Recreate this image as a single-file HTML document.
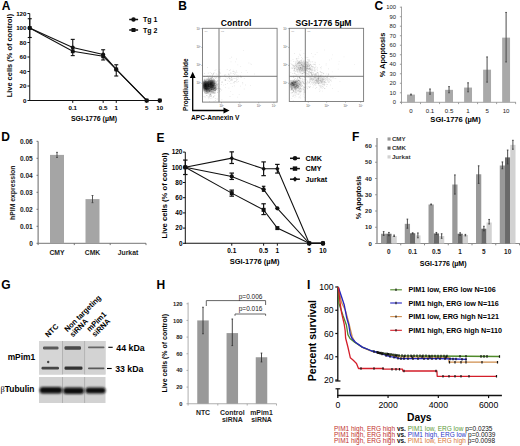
<!DOCTYPE html>
<html><head><meta charset="utf-8"><style>
html,body{margin:0;padding:0;background:#fff;overflow:hidden;width:520px;height:446px;}
svg{display:block;font-family:"Liberation Sans", sans-serif;}
</style></head><body>
<svg width="520" height="446" viewBox="0 0 520 446">
<rect width="520" height="446" fill="#fff"/>
<text x="1.70" y="9.80" font-size="12" font-weight="bold" text-anchor="start" fill="#000" >A</text>
<text x="178.20" y="9.90" font-size="12" font-weight="bold" text-anchor="start" fill="#000" >B</text>
<text x="374.40" y="9.60" font-size="12" font-weight="bold" text-anchor="start" fill="#000" >C</text>
<text x="1.30" y="141.05" font-size="12" font-weight="bold" text-anchor="start" fill="#000" >D</text>
<text x="156.60" y="141.50" font-size="12" font-weight="bold" text-anchor="start" fill="#000" >E</text>
<text x="352.10" y="141.00" font-size="12" font-weight="bold" text-anchor="start" fill="#000" >F</text>
<text x="1.30" y="288.60" font-size="12" font-weight="bold" text-anchor="start" fill="#000" >G</text>
<text x="156.60" y="288.60" font-size="12" font-weight="bold" text-anchor="start" fill="#000" >H</text>
<text x="307.00" y="288.80" font-size="12" font-weight="bold" text-anchor="start" fill="#000" >I</text>
<line x1="29.75" y1="13.50" x2="29.75" y2="101.00" stroke="#111" stroke-width="1"/>
<line x1="29.25" y1="100.50" x2="161.50" y2="100.50" stroke="#111" stroke-width="1.1"/>
<line x1="27.45" y1="100.50" x2="29.75" y2="100.50" stroke="#111" stroke-width="1"/>
<text x="26.50" y="102.92" font-size="6.2" font-weight="bold" text-anchor="end" fill="#000" >0</text>
<line x1="27.45" y1="86.00" x2="29.75" y2="86.00" stroke="#111" stroke-width="1"/>
<text x="26.50" y="88.42" font-size="6.2" font-weight="bold" text-anchor="end" fill="#000" >20</text>
<line x1="27.45" y1="71.50" x2="29.75" y2="71.50" stroke="#111" stroke-width="1"/>
<text x="26.50" y="73.92" font-size="6.2" font-weight="bold" text-anchor="end" fill="#000" >40</text>
<line x1="27.45" y1="57.00" x2="29.75" y2="57.00" stroke="#111" stroke-width="1"/>
<text x="26.50" y="59.42" font-size="6.2" font-weight="bold" text-anchor="end" fill="#000" >60</text>
<line x1="27.45" y1="42.50" x2="29.75" y2="42.50" stroke="#111" stroke-width="1"/>
<text x="26.50" y="44.92" font-size="6.2" font-weight="bold" text-anchor="end" fill="#000" >80</text>
<line x1="27.45" y1="28.00" x2="29.75" y2="28.00" stroke="#111" stroke-width="1"/>
<text x="26.50" y="30.42" font-size="6.2" font-weight="bold" text-anchor="end" fill="#000" >100</text>
<line x1="27.45" y1="13.50" x2="29.75" y2="13.50" stroke="#111" stroke-width="1"/>
<text x="26.50" y="15.92" font-size="6.2" font-weight="bold" text-anchor="end" fill="#000" >120</text>
<line x1="72.75" y1="100.50" x2="72.75" y2="102.90" stroke="#111" stroke-width="1"/>
<text x="72.75" y="109.72" font-size="6.2" font-weight="bold" text-anchor="middle" fill="#000" >0.1</text>
<line x1="103.16" y1="100.50" x2="103.16" y2="102.90" stroke="#111" stroke-width="1"/>
<text x="103.16" y="109.72" font-size="6.2" font-weight="bold" text-anchor="middle" fill="#000" >0.5</text>
<line x1="116.25" y1="100.50" x2="116.25" y2="102.90" stroke="#111" stroke-width="1"/>
<text x="116.25" y="109.72" font-size="6.2" font-weight="bold" text-anchor="middle" fill="#000" >1</text>
<line x1="146.66" y1="100.50" x2="146.66" y2="102.90" stroke="#111" stroke-width="1"/>
<text x="146.66" y="109.72" font-size="6.2" font-weight="bold" text-anchor="middle" fill="#000" >5</text>
<line x1="159.75" y1="100.50" x2="159.75" y2="102.90" stroke="#111" stroke-width="1"/>
<text x="159.75" y="109.72" font-size="6.2" font-weight="bold" text-anchor="middle" fill="#000" >10</text>
<text x="94.00" y="121.49" font-size="6.95" font-weight="bold" text-anchor="middle" fill="#000" >SGI-1776 (µM)</text>
<text transform="translate(9.30,55.60) rotate(-90)" x="0" y="2.67" font-size="7.45" font-weight="bold" text-anchor="middle" fill="#000" >Live cells (% of control)</text>
<polyline points="29.75,28.00 72.75,47.50 103.16,54.39 116.25,69.40 146.66,100.50 159.75,100.50" fill="none" stroke="#111" stroke-width="1.1" />
<polyline points="29.75,28.00 72.75,51.27 103.16,56.27 116.25,69.40 146.66,100.50 159.75,100.50" fill="none" stroke="#111" stroke-width="1.1" />
<line x1="29.75" y1="18.72" x2="29.75" y2="37.50" stroke="#111" stroke-width="1.1"/>
<line x1="27.75" y1="18.72" x2="31.75" y2="18.72" stroke="#111" stroke-width="1.1"/>
<line x1="27.75" y1="37.50" x2="31.75" y2="37.50" stroke="#111" stroke-width="1.1"/>
<line x1="72.75" y1="39.38" x2="72.75" y2="55.62" stroke="#111" stroke-width="1.1"/>
<line x1="70.75" y1="39.38" x2="74.75" y2="39.38" stroke="#111" stroke-width="1.1"/>
<line x1="70.75" y1="55.62" x2="74.75" y2="55.62" stroke="#111" stroke-width="1.1"/>
<line x1="103.16" y1="49.75" x2="103.16" y2="59.97" stroke="#111" stroke-width="1.1"/>
<line x1="101.16" y1="49.75" x2="105.16" y2="49.75" stroke="#111" stroke-width="1.1"/>
<line x1="101.16" y1="59.97" x2="105.16" y2="59.97" stroke="#111" stroke-width="1.1"/>
<line x1="116.25" y1="64.76" x2="116.25" y2="76.00" stroke="#111" stroke-width="1.1"/>
<line x1="114.25" y1="64.76" x2="118.25" y2="64.76" stroke="#111" stroke-width="1.1"/>
<line x1="114.25" y1="76.00" x2="118.25" y2="76.00" stroke="#111" stroke-width="1.1"/>
<circle cx="29.75" cy="28.00" r="2.0" fill="#111"/>
<circle cx="72.75" cy="47.50" r="2.0" fill="#111"/>
<circle cx="103.16" cy="54.39" r="2.0" fill="#111"/>
<circle cx="116.25" cy="69.40" r="2.0" fill="#111"/>
<circle cx="146.66" cy="100.50" r="2.0" fill="#111"/>
<circle cx="159.75" cy="100.50" r="2.0" fill="#111"/>
<rect x="27.85" y="26.10" width="3.80" height="3.80" fill="#111" />
<rect x="70.85" y="49.37" width="3.80" height="3.80" fill="#111" />
<rect x="101.26" y="54.38" width="3.80" height="3.80" fill="#111" />
<rect x="114.35" y="67.50" width="3.80" height="3.80" fill="#111" />
<rect x="144.76" y="98.60" width="3.80" height="3.80" fill="#111" />
<rect x="157.85" y="98.60" width="3.80" height="3.80" fill="#111" />
<line x1="129.20" y1="19.50" x2="138.10" y2="19.50" stroke="#111" stroke-width="1.5"/>
<circle cx="133.5" cy="19.5" r="2.2" fill="#111"/>
<text x="143.00" y="22.01" font-size="7" font-weight="bold" text-anchor="start" fill="#000" >Tg 1</text>
<line x1="129.20" y1="30.00" x2="138.10" y2="30.00" stroke="#111" stroke-width="1.5"/>
<rect x="131.50" y="28.00" width="4.00" height="4.00" fill="#111" />
<text x="143.00" y="32.51" font-size="7" font-weight="bold" text-anchor="start" fill="#000" >Tg 2</text>
<defs><radialGradient id="rg"><stop offset="0" stop-color="#000" stop-opacity="1"/><stop offset="0.6" stop-color="#000" stop-opacity="0.6"/><stop offset="1" stop-color="#000" stop-opacity="0"/></radialGradient></defs>
<defs><clipPath id="fc1"><rect x="202.5" y="28.3" width="74.60" height="73.80"/></clipPath></defs>
<g clip-path="url(#fc1)">
<ellipse cx="205.5" cy="85" rx="4.5" ry="5.5" fill="url(#rg)" opacity="0.95"/>
<ellipse cx="211" cy="83.5" rx="4.8" ry="4.5" fill="url(#rg)" opacity="0.85"/>
<ellipse cx="213" cy="87.5" rx="3.5" ry="4" fill="url(#rg)" opacity="0.5"/>
<ellipse cx="207" cy="89" rx="5" ry="4" fill="url(#rg)" opacity="0.6"/>
<ellipse cx="209.5" cy="86" rx="9" ry="9" fill="url(#rg)" opacity="0.3"/>
<path d="M207.5 87.3h.8v.8h-.8zM207.6 83.6h.8v.8h-.8zM204.8 84.0h.8v.8h-.8zM212.9 86.9h.8v.8h-.8zM212.6 86.1h.8v.8h-.8zM210.1 85.8h.8v.8h-.8zM210.5 87.2h.8v.8h-.8zM204.9 82.9h.8v.8h-.8zM209.7 84.8h.8v.8h-.8zM210.6 82.1h.8v.8h-.8zM209.7 86.8h.8v.8h-.8zM205.9 92.7h.8v.8h-.8zM210.7 90.4h.8v.8h-.8zM206.0 81.7h.8v.8h-.8zM207.1 84.5h.8v.8h-.8zM211.0 86.1h.8v.8h-.8zM206.7 80.7h.8v.8h-.8zM206.4 90.5h.8v.8h-.8zM205.3 86.1h.8v.8h-.8zM210.2 78.3h.8v.8h-.8zM208.7 90.9h.8v.8h-.8zM208.1 81.3h.8v.8h-.8zM210.5 84.7h.8v.8h-.8zM211.2 89.3h.8v.8h-.8zM214.3 86.6h.8v.8h-.8zM209.0 79.2h.8v.8h-.8zM211.0 82.2h.8v.8h-.8zM206.7 79.3h.8v.8h-.8zM204.6 82.6h.8v.8h-.8zM213.7 75.9h.8v.8h-.8z" fill="#000" fill-opacity="0.18"/>
<path d="M214.3 87.6h.8v.8h-.8zM209.9 81.7h.8v.8h-.8zM204.0 89.4h.8v.8h-.8zM212.9 85.7h.8v.8h-.8zM209.5 87.0h.8v.8h-.8zM214.9 87.8h.8v.8h-.8zM210.6 87.5h.8v.8h-.8zM212.3 87.4h.8v.8h-.8zM211.9 76.8h.8v.8h-.8zM207.8 89.6h.8v.8h-.8zM210.7 84.3h.8v.8h-.8zM209.8 87.9h.8v.8h-.8zM209.0 90.2h.8v.8h-.8zM205.9 83.1h.8v.8h-.8zM212.7 85.1h.8v.8h-.8zM205.0 89.3h.8v.8h-.8zM214.4 83.0h.8v.8h-.8zM207.9 83.7h.8v.8h-.8zM214.1 80.4h.8v.8h-.8zM213.5 79.3h.8v.8h-.8zM205.4 87.8h.8v.8h-.8zM213.0 88.9h.8v.8h-.8zM209.9 85.6h.8v.8h-.8zM209.1 87.6h.8v.8h-.8zM207.8 86.2h.8v.8h-.8zM210.8 85.0h.8v.8h-.8zM211.6 87.5h.8v.8h-.8zM216.5 86.5h.8v.8h-.8zM206.8 83.3h.8v.8h-.8zM208.4 89.2h.8v.8h-.8z" fill="#000" fill-opacity="0.18"/>
<path d="M207.2 86.7h.8v.8h-.8zM215.8 73.5h.8v.8h-.8zM204.0 86.1h.8v.8h-.8zM210.1 86.1h.8v.8h-.8zM206.8 87.9h.8v.8h-.8zM209.6 82.7h.8v.8h-.8zM218.2 86.6h.8v.8h-.8zM206.3 84.6h.8v.8h-.8zM207.6 84.7h.8v.8h-.8zM212.5 79.7h.8v.8h-.8zM208.2 89.3h.8v.8h-.8zM211.9 91.7h.8v.8h-.8zM207.1 87.8h.8v.8h-.8zM212.9 72.9h.8v.8h-.8zM212.9 78.5h.8v.8h-.8zM211.2 78.3h.8v.8h-.8zM209.2 90.4h.8v.8h-.8zM207.9 85.9h.8v.8h-.8zM211.7 85.6h.8v.8h-.8zM208.1 91.9h.8v.8h-.8zM212.7 83.7h.8v.8h-.8zM219.5 79.8h.8v.8h-.8zM212.2 83.8h.8v.8h-.8zM209.0 88.2h.8v.8h-.8zM209.4 87.9h.8v.8h-.8zM211.0 80.7h.8v.8h-.8zM204.4 78.4h.8v.8h-.8zM213.6 88.4h.8v.8h-.8zM214.4 80.8h.8v.8h-.8zM208.5 79.9h.8v.8h-.8z" fill="#000" fill-opacity="0.18"/>
<path d="M211.6 92.2h.8v.8h-.8zM204.9 92.0h.8v.8h-.8zM212.5 84.2h.8v.8h-.8zM208.1 82.3h.8v.8h-.8zM210.1 86.8h.8v.8h-.8zM214.5 80.4h.8v.8h-.8zM213.0 91.7h.8v.8h-.8zM214.3 84.2h.8v.8h-.8zM205.5 89.6h.8v.8h-.8zM209.0 85.6h.8v.8h-.8zM214.2 83.8h.8v.8h-.8zM209.8 82.2h.8v.8h-.8zM208.5 88.7h.8v.8h-.8zM208.8 91.0h.8v.8h-.8zM208.3 89.7h.8v.8h-.8zM214.5 92.2h.8v.8h-.8zM205.8 89.0h.8v.8h-.8zM203.6 84.9h.8v.8h-.8zM207.7 84.9h.8v.8h-.8zM206.1 86.1h.8v.8h-.8zM215.7 85.2h.8v.8h-.8zM210.6 89.5h.8v.8h-.8zM207.7 79.3h.8v.8h-.8zM206.3 89.8h.8v.8h-.8zM212.5 88.6h.8v.8h-.8zM208.5 88.6h.8v.8h-.8zM209.2 79.7h.8v.8h-.8zM212.2 82.5h.8v.8h-.8zM204.9 81.5h.8v.8h-.8zM203.8 86.6h.8v.8h-.8z" fill="#000" fill-opacity="0.18"/>
<path d="M205.9 76.3h.8v.8h-.8zM211.4 83.8h.8v.8h-.8zM209.7 82.9h.8v.8h-.8zM211.6 88.4h.8v.8h-.8zM211.2 86.5h.8v.8h-.8zM213.8 88.0h.8v.8h-.8zM210.3 75.6h.8v.8h-.8zM212.1 90.9h.8v.8h-.8zM207.3 82.9h.8v.8h-.8zM216.3 77.1h.8v.8h-.8zM210.4 95.9h.8v.8h-.8zM204.8 88.1h.8v.8h-.8zM216.0 84.5h.8v.8h-.8zM210.7 89.1h.8v.8h-.8zM204.9 84.6h.8v.8h-.8zM209.7 88.7h.8v.8h-.8zM208.4 84.1h.8v.8h-.8zM204.4 83.4h.8v.8h-.8zM212.1 85.5h.8v.8h-.8zM205.1 81.2h.8v.8h-.8zM219.2 90.1h.8v.8h-.8zM211.0 73.3h.8v.8h-.8zM211.0 87.2h.8v.8h-.8zM215.2 86.9h.8v.8h-.8zM208.2 87.4h.8v.8h-.8zM209.8 81.8h.8v.8h-.8zM213.8 93.1h.8v.8h-.8zM209.7 85.8h.8v.8h-.8zM206.9 80.6h.8v.8h-.8zM217.0 89.7h.8v.8h-.8z" fill="#000" fill-opacity="0.18"/>
<path d="M203.7 78.9h.8v.8h-.8zM215.3 89.5h.8v.8h-.8zM215.8 88.6h.8v.8h-.8zM205.0 86.2h.8v.8h-.8zM208.3 87.4h.8v.8h-.8zM205.6 84.4h.8v.8h-.8zM210.3 86.7h.8v.8h-.8zM211.1 85.9h.8v.8h-.8zM207.2 88.6h.8v.8h-.8zM208.7 81.3h.8v.8h-.8zM206.0 85.0h.8v.8h-.8zM208.1 85.7h.8v.8h-.8zM208.5 85.8h.8v.8h-.8zM208.0 79.3h.8v.8h-.8zM210.2 89.7h.8v.8h-.8zM210.2 84.1h.8v.8h-.8zM210.3 80.7h.8v.8h-.8zM204.8 88.3h.8v.8h-.8zM204.2 73.2h.8v.8h-.8zM204.3 92.1h.8v.8h-.8zM207.0 78.8h.8v.8h-.8zM205.4 87.3h.8v.8h-.8zM210.5 85.8h.8v.8h-.8zM214.4 88.2h.8v.8h-.8zM208.4 87.7h.8v.8h-.8zM215.1 89.4h.8v.8h-.8zM212.6 80.1h.8v.8h-.8zM207.9 88.3h.8v.8h-.8zM207.3 89.8h.8v.8h-.8zM210.9 89.1h.8v.8h-.8z" fill="#000" fill-opacity="0.18"/>
<path d="M207.7 96.5h.8v.8h-.8zM213.5 84.0h.8v.8h-.8zM208.9 96.7h.8v.8h-.8zM207.1 88.9h.8v.8h-.8zM212.4 85.0h.8v.8h-.8zM203.8 85.8h.8v.8h-.8zM209.9 90.1h.8v.8h-.8zM211.6 85.1h.8v.8h-.8zM211.9 87.4h.8v.8h-.8zM209.3 85.2h.8v.8h-.8zM207.5 88.1h.8v.8h-.8zM204.3 82.2h.8v.8h-.8zM208.5 78.4h.8v.8h-.8zM206.8 76.0h.8v.8h-.8zM205.8 87.6h.8v.8h-.8zM210.8 84.8h.8v.8h-.8zM207.6 78.6h.8v.8h-.8zM215.8 87.3h.8v.8h-.8zM212.9 81.0h.8v.8h-.8zM207.8 76.8h.8v.8h-.8zM211.6 89.2h.8v.8h-.8zM211.0 77.1h.8v.8h-.8zM206.0 78.7h.8v.8h-.8zM208.6 86.1h.8v.8h-.8zM211.0 88.2h.8v.8h-.8zM214.5 90.2h.8v.8h-.8zM204.3 80.2h.8v.8h-.8zM208.2 85.0h.8v.8h-.8zM210.5 77.9h.8v.8h-.8zM203.5 84.9h.8v.8h-.8z" fill="#000" fill-opacity="0.18"/>
<path d="M207.7 83.6h.8v.8h-.8zM208.2 81.6h.8v.8h-.8zM211.3 86.6h.8v.8h-.8zM208.1 82.0h.8v.8h-.8zM207.8 72.8h.8v.8h-.8zM204.6 85.2h.8v.8h-.8zM209.1 78.8h.8v.8h-.8zM207.5 83.6h.8v.8h-.8zM210.3 87.8h.8v.8h-.8zM208.4 81.2h.8v.8h-.8zM207.9 84.7h.8v.8h-.8zM211.4 86.3h.8v.8h-.8zM205.6 78.9h.8v.8h-.8zM207.0 81.7h.8v.8h-.8zM204.1 84.5h.8v.8h-.8zM206.5 85.5h.8v.8h-.8zM210.6 83.1h.8v.8h-.8zM217.8 83.6h.8v.8h-.8zM212.9 85.5h.8v.8h-.8zM213.0 74.3h.8v.8h-.8zM205.5 86.1h.8v.8h-.8zM210.9 95.5h.8v.8h-.8zM209.8 90.8h.8v.8h-.8zM211.6 89.3h.8v.8h-.8zM210.5 84.3h.8v.8h-.8zM210.5 80.1h.8v.8h-.8zM213.2 80.4h.8v.8h-.8zM209.5 94.5h.8v.8h-.8zM207.6 85.1h.8v.8h-.8zM213.2 85.1h.8v.8h-.8z" fill="#000" fill-opacity="0.18"/>
<path d="M205.3 86.2h.8v.8h-.8zM210.8 88.2h.8v.8h-.8zM205.4 92.9h.8v.8h-.8zM215.2 85.1h.8v.8h-.8zM209.6 83.1h.8v.8h-.8zM214.2 81.8h.8v.8h-.8zM211.2 82.8h.8v.8h-.8zM205.7 88.2h.8v.8h-.8zM213.8 85.0h.8v.8h-.8zM205.8 88.7h.8v.8h-.8zM208.3 86.4h.8v.8h-.8zM214.6 90.1h.8v.8h-.8zM206.4 95.3h.8v.8h-.8zM208.5 88.5h.8v.8h-.8zM205.9 84.8h.8v.8h-.8zM214.0 79.5h.8v.8h-.8zM213.2 82.9h.8v.8h-.8zM208.3 83.6h.8v.8h-.8zM208.0 80.1h.8v.8h-.8zM208.6 78.5h.8v.8h-.8zM208.2 86.4h.8v.8h-.8zM210.4 84.0h.8v.8h-.8zM204.9 85.7h.8v.8h-.8zM206.6 92.0h.8v.8h-.8zM211.6 84.5h.8v.8h-.8zM206.6 81.8h.8v.8h-.8zM204.8 83.4h.8v.8h-.8zM209.7 87.3h.8v.8h-.8zM210.8 94.4h.8v.8h-.8zM205.7 85.1h.8v.8h-.8z" fill="#000" fill-opacity="0.18"/>
<path d="M219.7 76.6h.8v.8h-.8zM206.4 85.8h.8v.8h-.8zM209.1 86.8h.8v.8h-.8zM207.5 86.6h.8v.8h-.8zM208.7 88.5h.8v.8h-.8zM208.5 80.4h.8v.8h-.8zM204.3 87.8h.8v.8h-.8zM205.9 87.9h.8v.8h-.8zM211.5 86.4h.8v.8h-.8zM210.5 84.5h.8v.8h-.8zM210.3 82.6h.8v.8h-.8zM208.1 88.4h.8v.8h-.8zM205.0 87.9h.8v.8h-.8zM216.0 82.5h.8v.8h-.8zM209.1 84.3h.8v.8h-.8zM214.7 86.4h.8v.8h-.8zM212.1 81.9h.8v.8h-.8zM208.4 85.0h.8v.8h-.8zM212.1 77.1h.8v.8h-.8zM211.5 84.4h.8v.8h-.8zM210.3 86.6h.8v.8h-.8zM214.5 82.4h.8v.8h-.8zM204.4 78.9h.8v.8h-.8zM203.6 86.5h.8v.8h-.8zM215.3 86.9h.8v.8h-.8zM209.5 95.1h.8v.8h-.8zM206.4 82.0h.8v.8h-.8zM210.6 87.5h.8v.8h-.8zM204.4 79.7h.8v.8h-.8zM209.7 86.1h.8v.8h-.8z" fill="#000" fill-opacity="0.18"/>
<path d="M206.3 87.1h.8v.8h-.8zM208.0 84.6h.8v.8h-.8zM207.1 89.7h.8v.8h-.8zM214.1 83.3h.8v.8h-.8zM211.9 81.6h.8v.8h-.8zM208.8 88.4h.8v.8h-.8zM214.6 83.3h.8v.8h-.8zM208.2 85.9h.8v.8h-.8zM205.8 86.7h.8v.8h-.8zM204.0 76.1h.8v.8h-.8zM208.7 86.2h.8v.8h-.8z" fill="#000" fill-opacity="0.18"/>
<path d="M206.3 93.3h.8v.8h-.8zM207.6 84.4h.8v.8h-.8zM211.4 78.6h.8v.8h-.8zM205.6 87.9h.8v.8h-.8zM213.2 87.0h.8v.8h-.8zM210.5 84.1h.8v.8h-.8zM210.5 98.0h.8v.8h-.8zM205.8 88.1h.8v.8h-.8zM209.9 94.1h.8v.8h-.8zM212.0 92.8h.8v.8h-.8zM210.0 89.5h.8v.8h-.8zM213.6 90.2h.8v.8h-.8zM217.3 80.6h.8v.8h-.8zM207.1 67.3h.8v.8h-.8zM213.1 85.8h.8v.8h-.8zM213.6 100.9h.8v.8h-.8zM209.0 86.5h.8v.8h-.8zM206.5 83.0h.8v.8h-.8zM205.8 91.8h.8v.8h-.8zM209.2 88.4h.8v.8h-.8zM208.1 93.5h.8v.8h-.8zM211.5 87.1h.8v.8h-.8zM212.3 87.1h.8v.8h-.8zM211.3 82.3h.8v.8h-.8zM214.4 90.1h.8v.8h-.8zM210.7 93.3h.8v.8h-.8zM210.0 87.1h.8v.8h-.8zM209.2 86.3h.8v.8h-.8zM210.8 88.5h.8v.8h-.8zM212.4 85.8h.8v.8h-.8z" fill="#000" fill-opacity="0.15"/>
<path d="M208.8 75.2h.8v.8h-.8zM206.9 92.1h.8v.8h-.8zM215.7 85.8h.8v.8h-.8zM208.4 97.5h.8v.8h-.8zM207.4 92.4h.8v.8h-.8zM217.4 88.2h.8v.8h-.8zM215.1 83.7h.8v.8h-.8zM210.0 87.5h.8v.8h-.8zM209.6 94.8h.8v.8h-.8zM220.9 84.0h.8v.8h-.8zM206.1 91.0h.8v.8h-.8zM203.7 91.0h.8v.8h-.8zM211.9 86.3h.8v.8h-.8zM211.7 78.7h.8v.8h-.8zM212.8 78.7h.8v.8h-.8zM205.5 84.7h.8v.8h-.8zM207.0 93.2h.8v.8h-.8zM209.4 85.6h.8v.8h-.8zM211.7 97.5h.8v.8h-.8zM209.0 90.2h.8v.8h-.8zM215.2 89.6h.8v.8h-.8zM220.0 76.1h.8v.8h-.8zM208.8 90.5h.8v.8h-.8zM213.8 92.0h.8v.8h-.8zM207.6 81.7h.8v.8h-.8zM209.5 94.2h.8v.8h-.8zM203.6 81.8h.8v.8h-.8zM208.9 76.4h.8v.8h-.8zM207.7 85.4h.8v.8h-.8zM211.3 83.8h.8v.8h-.8z" fill="#000" fill-opacity="0.15"/>
<path d="M204.6 85.6h.8v.8h-.8zM208.8 84.0h.8v.8h-.8zM209.1 92.5h.8v.8h-.8zM214.9 98.2h.8v.8h-.8zM205.1 85.5h.8v.8h-.8zM205.4 87.8h.8v.8h-.8zM211.6 79.8h.8v.8h-.8zM211.3 87.8h.8v.8h-.8zM215.0 76.8h.8v.8h-.8zM213.0 89.3h.8v.8h-.8zM211.4 90.6h.8v.8h-.8zM215.5 86.7h.8v.8h-.8zM213.4 85.5h.8v.8h-.8zM212.6 83.1h.8v.8h-.8zM208.5 98.4h.8v.8h-.8zM211.2 87.1h.8v.8h-.8zM210.0 93.6h.8v.8h-.8zM211.1 91.1h.8v.8h-.8zM208.8 96.1h.8v.8h-.8zM207.0 84.7h.8v.8h-.8zM213.4 88.4h.8v.8h-.8zM207.6 84.5h.8v.8h-.8zM207.7 91.7h.8v.8h-.8zM210.8 80.7h.8v.8h-.8zM211.1 89.1h.8v.8h-.8zM204.0 92.6h.8v.8h-.8zM207.6 86.0h.8v.8h-.8zM213.0 95.9h.8v.8h-.8zM205.6 90.6h.8v.8h-.8zM206.5 95.2h.8v.8h-.8z" fill="#000" fill-opacity="0.15"/>
<path d="M205.8 92.9h.8v.8h-.8zM220.1 72.8h.8v.8h-.8zM206.8 91.0h.8v.8h-.8zM208.5 84.0h.8v.8h-.8zM219.8 88.5h.8v.8h-.8zM206.1 88.9h.8v.8h-.8zM215.3 88.7h.8v.8h-.8zM214.9 92.4h.8v.8h-.8zM204.9 93.2h.8v.8h-.8zM211.5 91.9h.8v.8h-.8zM213.5 92.4h.8v.8h-.8zM213.4 73.3h.8v.8h-.8zM209.8 91.0h.8v.8h-.8zM221.8 82.3h.8v.8h-.8zM207.4 88.2h.8v.8h-.8zM213.4 85.3h.8v.8h-.8zM214.7 83.3h.8v.8h-.8zM210.3 84.8h.8v.8h-.8zM209.8 83.9h.8v.8h-.8zM210.5 84.6h.8v.8h-.8zM210.0 93.9h.8v.8h-.8zM204.1 87.3h.8v.8h-.8zM211.7 91.2h.8v.8h-.8zM207.3 75.4h.8v.8h-.8zM215.2 90.0h.8v.8h-.8zM209.1 86.3h.8v.8h-.8zM210.3 85.4h.8v.8h-.8zM203.9 83.6h.8v.8h-.8zM206.0 84.3h.8v.8h-.8zM203.9 90.1h.8v.8h-.8z" fill="#000" fill-opacity="0.15"/>
<path d="M215.9 89.2h.8v.8h-.8zM205.3 88.3h.8v.8h-.8zM209.7 77.6h.8v.8h-.8zM206.0 89.0h.8v.8h-.8zM206.7 88.5h.8v.8h-.8zM212.7 92.6h.8v.8h-.8zM213.5 91.5h.8v.8h-.8zM207.6 87.9h.8v.8h-.8zM207.6 86.1h.8v.8h-.8zM208.1 77.7h.8v.8h-.8zM207.3 87.9h.8v.8h-.8zM204.1 87.9h.8v.8h-.8zM211.6 87.0h.8v.8h-.8zM219.4 72.4h.8v.8h-.8zM208.0 77.0h.8v.8h-.8zM211.6 86.2h.8v.8h-.8zM211.8 74.5h.8v.8h-.8zM213.3 90.2h.8v.8h-.8zM209.1 84.5h.8v.8h-.8zM212.2 85.1h.8v.8h-.8zM210.1 84.9h.8v.8h-.8zM210.0 92.5h.8v.8h-.8zM204.6 87.8h.8v.8h-.8zM212.1 88.9h.8v.8h-.8zM215.2 99.9h.8v.8h-.8zM204.5 76.5h.8v.8h-.8zM213.3 97.2h.8v.8h-.8zM213.6 92.9h.8v.8h-.8zM205.9 83.7h.8v.8h-.8zM213.4 82.5h.8v.8h-.8z" fill="#000" fill-opacity="0.15"/>
<path d="M221.5 99.5h.8v.8h-.8zM205.6 83.6h.8v.8h-.8zM210.2 83.5h.8v.8h-.8zM215.6 87.5h.8v.8h-.8zM203.6 95.9h.8v.8h-.8zM206.1 89.3h.8v.8h-.8zM208.9 86.1h.8v.8h-.8zM210.6 83.8h.8v.8h-.8zM208.9 88.3h.8v.8h-.8zM211.8 88.7h.8v.8h-.8zM205.0 83.7h.8v.8h-.8zM211.4 91.2h.8v.8h-.8zM208.4 87.0h.8v.8h-.8zM213.7 88.1h.8v.8h-.8zM212.7 91.5h.8v.8h-.8zM210.1 95.8h.8v.8h-.8zM206.1 85.8h.8v.8h-.8zM205.0 83.2h.8v.8h-.8zM216.8 98.6h.8v.8h-.8zM209.1 91.4h.8v.8h-.8zM214.9 92.8h.8v.8h-.8zM215.0 80.4h.8v.8h-.8zM205.8 90.7h.8v.8h-.8zM216.2 88.6h.8v.8h-.8zM204.7 85.9h.8v.8h-.8zM205.7 82.9h.8v.8h-.8zM216.5 84.2h.8v.8h-.8zM209.1 101.0h.8v.8h-.8zM214.9 90.0h.8v.8h-.8zM205.9 90.5h.8v.8h-.8z" fill="#000" fill-opacity="0.15"/>
<path d="M217.1 91.7h.8v.8h-.8zM215.3 88.6h.8v.8h-.8zM211.6 86.8h.8v.8h-.8zM211.1 95.8h.8v.8h-.8zM210.2 84.6h.8v.8h-.8zM207.5 92.7h.8v.8h-.8zM219.0 91.8h.8v.8h-.8zM210.6 78.7h.8v.8h-.8zM218.6 88.5h.8v.8h-.8zM208.8 81.3h.8v.8h-.8zM208.7 81.4h.8v.8h-.8zM209.4 90.8h.8v.8h-.8zM209.2 89.7h.8v.8h-.8zM204.7 96.6h.8v.8h-.8z" fill="#000" fill-opacity="0.15"/>
<path d="M212.0 74.9h.8v.8h-.8zM213.4 80.2h.8v.8h-.8zM211.0 82.2h.8v.8h-.8zM214.9 78.1h.8v.8h-.8zM213.6 91.1h.8v.8h-.8zM216.0 83.2h.8v.8h-.8zM214.4 83.4h.8v.8h-.8zM213.9 87.7h.8v.8h-.8zM213.7 72.0h.8v.8h-.8zM213.9 79.6h.8v.8h-.8zM216.0 80.9h.8v.8h-.8zM214.4 94.9h.8v.8h-.8zM210.9 78.4h.8v.8h-.8zM209.8 72.0h.8v.8h-.8zM208.4 85.8h.8v.8h-.8zM212.1 74.7h.8v.8h-.8zM209.6 87.1h.8v.8h-.8zM211.7 82.2h.8v.8h-.8zM215.0 90.8h.8v.8h-.8zM219.8 89.2h.8v.8h-.8zM214.4 84.9h.8v.8h-.8zM219.4 91.1h.8v.8h-.8zM213.1 86.3h.8v.8h-.8zM214.9 84.3h.8v.8h-.8zM212.5 77.4h.8v.8h-.8zM212.4 76.3h.8v.8h-.8zM217.7 86.7h.8v.8h-.8zM210.4 91.0h.8v.8h-.8zM216.7 74.5h.8v.8h-.8zM219.5 88.0h.8v.8h-.8z" fill="#000" fill-opacity="0.15"/>
<path d="M220.2 77.8h.8v.8h-.8zM215.6 86.1h.8v.8h-.8zM214.6 84.9h.8v.8h-.8zM217.2 76.5h.8v.8h-.8zM210.3 77.0h.8v.8h-.8zM212.3 81.0h.8v.8h-.8zM215.1 85.3h.8v.8h-.8zM214.1 80.6h.8v.8h-.8zM212.7 88.8h.8v.8h-.8zM216.3 84.5h.8v.8h-.8zM213.0 91.8h.8v.8h-.8zM212.2 87.2h.8v.8h-.8zM217.5 82.7h.8v.8h-.8zM216.5 78.4h.8v.8h-.8zM217.0 85.0h.8v.8h-.8zM209.2 87.3h.8v.8h-.8zM211.3 90.4h.8v.8h-.8zM212.0 83.2h.8v.8h-.8zM214.8 82.3h.8v.8h-.8zM214.8 81.2h.8v.8h-.8zM216.0 84.0h.8v.8h-.8zM214.6 70.2h.8v.8h-.8zM217.5 84.2h.8v.8h-.8zM208.7 84.5h.8v.8h-.8zM215.4 89.4h.8v.8h-.8zM210.8 91.7h.8v.8h-.8zM213.5 96.0h.8v.8h-.8zM213.6 87.4h.8v.8h-.8zM212.9 78.4h.8v.8h-.8zM217.3 88.5h.8v.8h-.8z" fill="#000" fill-opacity="0.15"/>
<path d="M218.6 88.3h.8v.8h-.8zM212.3 75.7h.8v.8h-.8zM212.0 80.6h.8v.8h-.8zM211.6 86.9h.8v.8h-.8zM215.0 82.7h.8v.8h-.8zM214.5 83.3h.8v.8h-.8zM214.6 87.8h.8v.8h-.8zM216.9 80.6h.8v.8h-.8zM209.5 91.1h.8v.8h-.8zM214.3 89.5h.8v.8h-.8zM209.1 82.4h.8v.8h-.8zM214.1 76.8h.8v.8h-.8zM212.5 87.6h.8v.8h-.8zM217.2 92.0h.8v.8h-.8zM211.4 77.0h.8v.8h-.8zM215.6 88.7h.8v.8h-.8zM214.6 77.5h.8v.8h-.8zM216.3 88.0h.8v.8h-.8zM215.7 81.6h.8v.8h-.8zM214.9 88.0h.8v.8h-.8z" fill="#000" fill-opacity="0.15"/>
<path d="M229.2 70.0h.8v.8h-.8zM233.6 78.2h.8v.8h-.8zM232.1 79.6h.8v.8h-.8zM229.1 76.2h.8v.8h-.8zM230.5 78.5h.8v.8h-.8zM240.0 75.6h.8v.8h-.8zM242.3 81.9h.8v.8h-.8zM236.0 78.6h.8v.8h-.8zM240.9 75.9h.8v.8h-.8zM231.4 72.8h.8v.8h-.8zM234.4 81.2h.8v.8h-.8zM234.7 78.0h.8v.8h-.8zM231.0 77.1h.8v.8h-.8zM224.9 80.2h.8v.8h-.8zM230.0 72.6h.8v.8h-.8zM228.2 73.6h.8v.8h-.8zM236.3 80.2h.8v.8h-.8zM225.2 79.7h.8v.8h-.8zM236.4 74.5h.8v.8h-.8zM224.6 73.9h.8v.8h-.8zM228.8 77.7h.8v.8h-.8zM230.2 69.4h.8v.8h-.8zM233.2 71.1h.8v.8h-.8zM236.5 72.3h.8v.8h-.8zM228.5 73.5h.8v.8h-.8zM229.3 81.0h.8v.8h-.8zM236.3 78.6h.8v.8h-.8zM233.6 71.1h.8v.8h-.8zM229.4 74.6h.8v.8h-.8zM227.1 78.3h.8v.8h-.8z" fill="#000" fill-opacity="0.14"/>
<path d="M228.3 74.0h.8v.8h-.8zM226.8 69.3h.8v.8h-.8zM235.0 81.2h.8v.8h-.8zM232.9 73.1h.8v.8h-.8zM218.5 77.1h.8v.8h-.8zM238.1 77.5h.8v.8h-.8zM236.6 81.7h.8v.8h-.8zM237.6 75.0h.8v.8h-.8zM237.3 79.2h.8v.8h-.8zM224.3 75.1h.8v.8h-.8zM224.9 76.1h.8v.8h-.8zM234.9 72.8h.8v.8h-.8zM221.7 81.0h.8v.8h-.8zM233.9 81.6h.8v.8h-.8zM225.4 80.2h.8v.8h-.8zM242.4 83.5h.8v.8h-.8zM230.9 77.4h.8v.8h-.8zM231.2 80.0h.8v.8h-.8zM237.2 76.8h.8v.8h-.8zM225.2 79.1h.8v.8h-.8zM229.7 78.7h.8v.8h-.8zM233.3 82.2h.8v.8h-.8zM237.7 74.9h.8v.8h-.8zM233.7 82.7h.8v.8h-.8zM229.3 78.0h.8v.8h-.8zM238.0 80.9h.8v.8h-.8zM234.6 71.9h.8v.8h-.8zM225.7 77.4h.8v.8h-.8zM233.9 85.4h.8v.8h-.8zM227.7 80.5h.8v.8h-.8z" fill="#000" fill-opacity="0.14"/>
<path d="M235.9 70.6h.8v.8h-.8zM227.9 77.1h.8v.8h-.8zM229.5 76.0h.8v.8h-.8zM234.4 73.7h.8v.8h-.8zM234.3 74.3h.8v.8h-.8zM229.3 78.4h.8v.8h-.8zM229.1 77.5h.8v.8h-.8zM240.0 76.6h.8v.8h-.8zM231.3 79.1h.8v.8h-.8zM230.2 80.3h.8v.8h-.8z" fill="#000" fill-opacity="0.14"/>
<path d="M216.5 88.3h.8v.8h-.8zM223.4 78.4h.8v.8h-.8zM243.9 78.0h.8v.8h-.8zM243.8 88.6h.8v.8h-.8zM241.1 77.2h.8v.8h-.8zM238.8 94.2h.8v.8h-.8zM227.0 83.1h.8v.8h-.8zM250.1 85.2h.8v.8h-.8zM224.2 79.6h.8v.8h-.8zM232.0 86.3h.8v.8h-.8zM229.6 96.1h.8v.8h-.8zM225.0 87.3h.8v.8h-.8zM241.1 77.0h.8v.8h-.8zM237.3 96.8h.8v.8h-.8zM215.8 76.3h.8v.8h-.8zM218.7 71.1h.8v.8h-.8zM232.1 71.0h.8v.8h-.8zM232.5 94.2h.8v.8h-.8zM213.5 81.8h.8v.8h-.8zM210.7 89.5h.8v.8h-.8zM221.4 82.1h.8v.8h-.8zM228.5 87.8h.8v.8h-.8zM224.9 84.1h.8v.8h-.8zM223.1 84.8h.8v.8h-.8zM217.4 84.4h.8v.8h-.8zM210.6 80.6h.8v.8h-.8zM245.2 84.6h.8v.8h-.8zM216.7 85.8h.8v.8h-.8zM219.2 72.4h.8v.8h-.8zM221.4 89.2h.8v.8h-.8z" fill="#000" fill-opacity="0.1"/>
<path d="M231.5 83.3h.8v.8h-.8zM219.7 76.4h.8v.8h-.8zM240.1 85.7h.8v.8h-.8zM219.4 69.2h.8v.8h-.8zM217.7 83.5h.8v.8h-.8zM229.9 82.9h.8v.8h-.8zM225.5 74.4h.8v.8h-.8zM218.5 95.8h.8v.8h-.8zM221.2 89.9h.8v.8h-.8zM212.8 82.1h.8v.8h-.8zM230.3 91.3h.8v.8h-.8zM217.9 88.2h.8v.8h-.8zM231.5 78.8h.8v.8h-.8zM232.3 77.7h.8v.8h-.8z" fill="#000" fill-opacity="0.1"/>
<path d="M232.8 69.8h.8v.8h-.8zM215.6 69.0h.8v.8h-.8zM231.0 56.8h.8v.8h-.8zM236.2 76.9h.8v.8h-.8zM236.4 81.4h.8v.8h-.8zM229.6 58.2h.8v.8h-.8zM254.0 73.6h.8v.8h-.8zM248.5 62.6h.8v.8h-.8zM247.2 72.3h.8v.8h-.8zM245.8 70.2h.8v.8h-.8zM250.9 64.2h.8v.8h-.8zM231.3 56.7h.8v.8h-.8zM250.4 63.4h.8v.8h-.8zM230.6 61.5h.8v.8h-.8zM236.0 58.6h.8v.8h-.8zM237.4 64.4h.8v.8h-.8zM235.0 61.4h.8v.8h-.8zM240.3 65.9h.8v.8h-.8zM241.0 72.2h.8v.8h-.8zM243.1 50.3h.8v.8h-.8z" fill="#000" fill-opacity="0.1"/>
</g>
<rect x="202.50" y="28.30" width="74.60" height="73.80" fill="none" stroke="#777" stroke-width="0.9"/>
<line x1="219.00" y1="28.30" x2="219.00" y2="102.10" stroke="#6a6a6a" stroke-width="0.9"/>
<line x1="202.50" y1="76.30" x2="277.10" y2="76.30" stroke="#6a6a6a" stroke-width="0.9"/>
<line x1="201.30" y1="28.60" x2="202.50" y2="28.60" stroke="#777" stroke-width="0.5"/>
<text x="200.50" y="29.60" font-size="2.8" font-weight="normal" text-anchor="end" fill="#555" >10<tspan font-size="1.8" dy="-1">4</tspan></text>
<line x1="201.30" y1="47.40" x2="202.50" y2="47.40" stroke="#777" stroke-width="0.5"/>
<text x="200.50" y="48.40" font-size="2.8" font-weight="normal" text-anchor="end" fill="#555" >10<tspan font-size="1.8" dy="-1">3</tspan></text>
<line x1="201.30" y1="65.40" x2="202.50" y2="65.40" stroke="#777" stroke-width="0.5"/>
<text x="200.50" y="66.40" font-size="2.8" font-weight="normal" text-anchor="end" fill="#555" >10<tspan font-size="1.8" dy="-1">2</tspan></text>
<line x1="201.30" y1="83.30" x2="202.50" y2="83.30" stroke="#777" stroke-width="0.5"/>
<text x="200.50" y="84.30" font-size="2.8" font-weight="normal" text-anchor="end" fill="#555" >10<tspan font-size="1.8" dy="-1">1</tspan></text>
<line x1="221.50" y1="102.10" x2="221.50" y2="103.30" stroke="#777" stroke-width="0.5"/>
<text x="221.50" y="107.10" font-size="2.8" font-weight="normal" text-anchor="middle" fill="#555" >10<tspan font-size="1.8" dy="-1">1</tspan></text>
<line x1="239.80" y1="102.10" x2="239.80" y2="103.30" stroke="#777" stroke-width="0.5"/>
<text x="239.80" y="107.10" font-size="2.8" font-weight="normal" text-anchor="middle" fill="#555" >10<tspan font-size="1.8" dy="-1">2</tspan></text>
<line x1="258.70" y1="102.10" x2="258.70" y2="103.30" stroke="#777" stroke-width="0.5"/>
<text x="258.70" y="107.10" font-size="2.8" font-weight="normal" text-anchor="middle" fill="#555" >10<tspan font-size="1.8" dy="-1">3</tspan></text>
<line x1="273.90" y1="102.10" x2="273.90" y2="103.30" stroke="#777" stroke-width="0.5"/>
<text x="273.90" y="107.10" font-size="2.8" font-weight="normal" text-anchor="middle" fill="#555" >10<tspan font-size="1.8" dy="-1">4</tspan></text>
<text x="204.50" y="31.59" font-size="2.2" font-weight="normal" text-anchor="start" fill="#999" >Q1</text>
<text x="221.00" y="31.59" font-size="2.2" font-weight="normal" text-anchor="start" fill="#999" >Q2</text>
<text x="236.00" y="26.08" font-size="8.6" font-weight="bold" text-anchor="middle" fill="#000" >Control</text>
<defs><clipPath id="fc2"><rect x="289.3" y="28.3" width="74.30" height="73.20"/></clipPath></defs>
<g clip-path="url(#fc2)">
<ellipse cx="294" cy="84.5" rx="6" ry="5.5" fill="url(#rg)" opacity="0.3"/>
<ellipse cx="292.5" cy="84" rx="3" ry="2.5" fill="url(#rg)" opacity="0.4"/>
<path d="M293.1 81.3h.8v.8h-.8zM299.0 78.2h.8v.8h-.8zM292.3 83.3h.8v.8h-.8zM294.0 88.5h.8v.8h-.8zM293.5 88.4h.8v.8h-.8zM301.0 86.2h.8v.8h-.8zM297.7 85.0h.8v.8h-.8zM297.7 79.6h.8v.8h-.8zM299.8 82.4h.8v.8h-.8zM299.9 84.9h.8v.8h-.8zM300.6 84.0h.8v.8h-.8zM293.7 85.5h.8v.8h-.8zM293.6 82.3h.8v.8h-.8zM296.0 85.1h.8v.8h-.8zM302.3 84.7h.8v.8h-.8zM304.0 91.7h.8v.8h-.8zM303.2 88.7h.8v.8h-.8zM296.1 85.0h.8v.8h-.8zM294.9 81.6h.8v.8h-.8zM295.2 81.9h.8v.8h-.8zM302.9 86.6h.8v.8h-.8zM293.5 76.8h.8v.8h-.8zM295.3 82.8h.8v.8h-.8zM290.6 80.0h.8v.8h-.8zM295.2 94.8h.8v.8h-.8zM295.4 83.9h.8v.8h-.8zM302.0 85.0h.8v.8h-.8zM296.3 83.0h.8v.8h-.8zM292.8 90.5h.8v.8h-.8zM300.0 91.4h.8v.8h-.8z" fill="#000" fill-opacity="0.16"/>
<path d="M293.9 84.6h.8v.8h-.8zM291.5 88.4h.8v.8h-.8zM300.4 90.1h.8v.8h-.8zM291.3 88.9h.8v.8h-.8zM292.3 81.5h.8v.8h-.8zM302.9 82.1h.8v.8h-.8zM292.1 83.1h.8v.8h-.8zM306.8 88.5h.8v.8h-.8zM293.1 77.3h.8v.8h-.8zM292.5 89.2h.8v.8h-.8zM303.9 83.4h.8v.8h-.8zM292.4 82.5h.8v.8h-.8zM290.6 88.8h.8v.8h-.8zM296.8 81.4h.8v.8h-.8zM299.0 84.5h.8v.8h-.8zM290.2 87.0h.8v.8h-.8zM299.3 76.8h.8v.8h-.8zM303.7 86.5h.8v.8h-.8zM298.9 77.1h.8v.8h-.8zM292.3 83.1h.8v.8h-.8zM300.3 78.7h.8v.8h-.8zM291.5 76.4h.8v.8h-.8zM294.4 85.9h.8v.8h-.8zM297.8 90.8h.8v.8h-.8zM298.5 83.3h.8v.8h-.8zM290.2 80.8h.8v.8h-.8zM292.5 85.1h.8v.8h-.8zM295.3 91.2h.8v.8h-.8zM296.8 80.2h.8v.8h-.8zM302.4 88.3h.8v.8h-.8z" fill="#000" fill-opacity="0.16"/>
<path d="M296.0 81.6h.8v.8h-.8zM299.6 81.3h.8v.8h-.8zM296.6 86.9h.8v.8h-.8zM298.4 90.1h.8v.8h-.8zM291.7 88.4h.8v.8h-.8zM291.1 87.3h.8v.8h-.8zM296.3 85.5h.8v.8h-.8zM299.9 84.4h.8v.8h-.8zM300.5 88.0h.8v.8h-.8zM296.1 82.2h.8v.8h-.8zM292.1 82.4h.8v.8h-.8zM294.6 84.4h.8v.8h-.8zM308.9 87.1h.8v.8h-.8zM299.0 81.1h.8v.8h-.8zM292.3 83.2h.8v.8h-.8zM296.4 80.4h.8v.8h-.8zM302.8 82.2h.8v.8h-.8zM300.4 75.2h.8v.8h-.8zM295.5 85.6h.8v.8h-.8zM296.4 86.9h.8v.8h-.8zM296.8 85.1h.8v.8h-.8zM296.9 83.7h.8v.8h-.8zM291.8 82.2h.8v.8h-.8zM303.8 91.4h.8v.8h-.8zM295.2 89.7h.8v.8h-.8zM293.3 81.0h.8v.8h-.8zM293.0 85.3h.8v.8h-.8zM309.1 81.9h.8v.8h-.8zM295.7 85.6h.8v.8h-.8zM295.3 88.2h.8v.8h-.8z" fill="#000" fill-opacity="0.16"/>
<path d="M303.5 79.5h.8v.8h-.8zM296.2 83.4h.8v.8h-.8zM297.1 78.4h.8v.8h-.8zM297.9 85.3h.8v.8h-.8zM295.8 75.0h.8v.8h-.8zM293.8 81.5h.8v.8h-.8zM298.6 86.7h.8v.8h-.8zM295.4 86.6h.8v.8h-.8zM292.8 84.8h.8v.8h-.8zM295.7 86.7h.8v.8h-.8zM295.2 83.9h.8v.8h-.8zM294.9 81.9h.8v.8h-.8zM305.6 86.6h.8v.8h-.8zM297.4 93.7h.8v.8h-.8zM301.8 78.3h.8v.8h-.8zM298.6 87.9h.8v.8h-.8zM304.0 89.8h.8v.8h-.8zM299.0 79.8h.8v.8h-.8zM291.6 85.6h.8v.8h-.8zM297.8 80.4h.8v.8h-.8zM293.8 82.9h.8v.8h-.8zM295.8 85.8h.8v.8h-.8zM294.2 79.6h.8v.8h-.8zM301.1 90.9h.8v.8h-.8zM295.0 88.6h.8v.8h-.8zM297.5 87.1h.8v.8h-.8zM297.7 81.4h.8v.8h-.8zM298.1 88.5h.8v.8h-.8zM291.5 92.4h.8v.8h-.8zM304.9 91.8h.8v.8h-.8z" fill="#000" fill-opacity="0.16"/>
<path d="M304.5 87.5h.8v.8h-.8zM294.0 82.1h.8v.8h-.8zM291.8 85.0h.8v.8h-.8zM295.4 87.2h.8v.8h-.8zM305.7 84.4h.8v.8h-.8zM298.5 86.4h.8v.8h-.8zM296.7 83.7h.8v.8h-.8zM294.9 81.2h.8v.8h-.8zM296.3 84.4h.8v.8h-.8zM296.9 81.1h.8v.8h-.8zM295.7 84.7h.8v.8h-.8zM298.2 80.2h.8v.8h-.8zM297.4 88.4h.8v.8h-.8zM298.2 83.0h.8v.8h-.8zM293.3 83.6h.8v.8h-.8zM298.8 90.7h.8v.8h-.8zM294.8 81.9h.8v.8h-.8zM297.2 85.3h.8v.8h-.8zM291.4 81.6h.8v.8h-.8zM295.0 87.2h.8v.8h-.8zM290.1 80.4h.8v.8h-.8zM297.7 79.6h.8v.8h-.8zM296.0 85.9h.8v.8h-.8zM295.0 80.4h.8v.8h-.8zM295.2 83.2h.8v.8h-.8zM297.0 81.1h.8v.8h-.8zM300.4 77.8h.8v.8h-.8zM294.7 84.5h.8v.8h-.8zM299.8 82.1h.8v.8h-.8zM298.0 82.2h.8v.8h-.8z" fill="#000" fill-opacity="0.16"/>
<path d="M298.8 91.4h.8v.8h-.8zM293.7 86.3h.8v.8h-.8zM291.3 88.4h.8v.8h-.8zM300.9 84.6h.8v.8h-.8zM290.4 86.1h.8v.8h-.8zM300.7 88.9h.8v.8h-.8zM299.2 77.2h.8v.8h-.8zM292.4 90.2h.8v.8h-.8zM304.0 87.5h.8v.8h-.8zM300.5 83.2h.8v.8h-.8zM294.6 84.3h.8v.8h-.8zM298.6 83.9h.8v.8h-.8zM296.4 86.2h.8v.8h-.8zM295.5 91.9h.8v.8h-.8zM297.5 84.8h.8v.8h-.8zM294.6 82.0h.8v.8h-.8zM301.5 85.1h.8v.8h-.8zM290.6 82.3h.8v.8h-.8zM294.9 82.7h.8v.8h-.8zM300.4 79.9h.8v.8h-.8zM297.7 85.1h.8v.8h-.8zM290.2 84.7h.8v.8h-.8zM295.1 86.5h.8v.8h-.8zM293.5 85.7h.8v.8h-.8zM299.0 88.7h.8v.8h-.8zM295.4 82.1h.8v.8h-.8zM300.4 76.1h.8v.8h-.8zM291.9 87.2h.8v.8h-.8zM298.4 80.4h.8v.8h-.8zM296.2 80.9h.8v.8h-.8z" fill="#000" fill-opacity="0.16"/>
<path d="M295.7 88.1h.8v.8h-.8zM298.8 76.2h.8v.8h-.8zM299.0 77.4h.8v.8h-.8zM300.6 86.1h.8v.8h-.8zM305.6 82.1h.8v.8h-.8zM295.5 88.7h.8v.8h-.8zM292.6 81.7h.8v.8h-.8zM293.8 84.2h.8v.8h-.8zM290.6 86.4h.8v.8h-.8zM297.9 84.8h.8v.8h-.8zM303.2 83.2h.8v.8h-.8zM301.4 82.3h.8v.8h-.8zM298.9 76.8h.8v.8h-.8zM296.4 83.8h.8v.8h-.8zM293.3 82.1h.8v.8h-.8zM293.9 81.6h.8v.8h-.8zM293.0 82.4h.8v.8h-.8zM290.7 84.0h.8v.8h-.8zM299.0 83.5h.8v.8h-.8zM293.3 89.9h.8v.8h-.8zM299.9 88.2h.8v.8h-.8zM300.7 83.2h.8v.8h-.8zM294.9 89.0h.8v.8h-.8zM293.0 84.0h.8v.8h-.8zM297.2 86.0h.8v.8h-.8zM294.3 88.4h.8v.8h-.8zM294.7 87.4h.8v.8h-.8zM300.3 87.1h.8v.8h-.8zM298.8 79.9h.8v.8h-.8zM297.6 90.5h.8v.8h-.8z" fill="#000" fill-opacity="0.16"/>
<path d="M291.7 81.6h.8v.8h-.8zM294.3 87.3h.8v.8h-.8zM296.5 89.2h.8v.8h-.8zM291.1 88.1h.8v.8h-.8zM299.7 84.8h.8v.8h-.8zM297.6 82.2h.8v.8h-.8zM290.6 82.9h.8v.8h-.8zM292.6 96.1h.8v.8h-.8zM293.3 91.1h.8v.8h-.8zM296.4 85.7h.8v.8h-.8zM298.8 81.4h.8v.8h-.8zM299.6 86.0h.8v.8h-.8zM298.0 86.3h.8v.8h-.8zM302.6 82.8h.8v.8h-.8zM297.8 87.5h.8v.8h-.8zM291.4 89.3h.8v.8h-.8zM297.9 80.1h.8v.8h-.8zM295.0 77.9h.8v.8h-.8zM295.8 80.0h.8v.8h-.8zM297.0 78.4h.8v.8h-.8zM297.5 83.4h.8v.8h-.8zM295.8 84.2h.8v.8h-.8zM296.1 79.2h.8v.8h-.8zM291.3 82.7h.8v.8h-.8zM297.4 76.6h.8v.8h-.8zM292.1 82.1h.8v.8h-.8zM290.7 85.8h.8v.8h-.8zM294.9 81.2h.8v.8h-.8zM291.1 87.7h.8v.8h-.8zM292.5 86.8h.8v.8h-.8z" fill="#000" fill-opacity="0.16"/>
<path d="M297.5 76.9h.8v.8h-.8zM290.6 84.5h.8v.8h-.8zM297.0 87.6h.8v.8h-.8zM299.1 88.6h.8v.8h-.8zM293.8 83.7h.8v.8h-.8zM299.0 82.8h.8v.8h-.8zM300.3 78.1h.8v.8h-.8zM298.4 83.8h.8v.8h-.8zM296.9 84.6h.8v.8h-.8zM290.7 82.6h.8v.8h-.8zM302.3 81.2h.8v.8h-.8zM290.1 84.0h.8v.8h-.8zM293.7 80.9h.8v.8h-.8zM291.7 88.7h.8v.8h-.8zM293.1 80.1h.8v.8h-.8zM299.0 86.8h.8v.8h-.8zM290.8 87.5h.8v.8h-.8zM300.6 83.5h.8v.8h-.8zM299.6 84.4h.8v.8h-.8zM297.4 87.6h.8v.8h-.8zM303.8 83.5h.8v.8h-.8zM293.3 84.3h.8v.8h-.8zM300.9 80.7h.8v.8h-.8zM301.4 73.5h.8v.8h-.8zM299.1 81.8h.8v.8h-.8zM297.6 87.3h.8v.8h-.8zM290.2 84.2h.8v.8h-.8zM296.6 86.8h.8v.8h-.8zM291.3 80.5h.8v.8h-.8zM294.6 83.6h.8v.8h-.8z" fill="#000" fill-opacity="0.16"/>
<path d="M293.1 90.2h.8v.8h-.8zM299.3 84.6h.8v.8h-.8zM298.8 80.1h.8v.8h-.8zM294.0 82.2h.8v.8h-.8zM294.8 90.2h.8v.8h-.8zM291.4 82.6h.8v.8h-.8zM297.4 86.1h.8v.8h-.8zM295.6 82.6h.8v.8h-.8zM297.7 85.9h.8v.8h-.8zM296.2 84.7h.8v.8h-.8zM296.0 81.0h.8v.8h-.8zM294.6 80.8h.8v.8h-.8zM297.2 87.3h.8v.8h-.8zM303.4 89.6h.8v.8h-.8zM291.9 82.7h.8v.8h-.8zM291.3 85.7h.8v.8h-.8zM304.4 87.3h.8v.8h-.8zM295.5 85.7h.8v.8h-.8zM303.5 81.2h.8v.8h-.8zM291.7 92.4h.8v.8h-.8zM297.0 81.4h.8v.8h-.8zM295.7 88.5h.8v.8h-.8zM294.9 81.7h.8v.8h-.8zM292.2 92.1h.8v.8h-.8zM295.6 87.0h.8v.8h-.8zM293.7 86.5h.8v.8h-.8zM299.2 83.9h.8v.8h-.8zM293.4 83.8h.8v.8h-.8zM291.2 83.7h.8v.8h-.8zM294.1 85.3h.8v.8h-.8z" fill="#000" fill-opacity="0.16"/>
<path d="M301.5 89.7h.8v.8h-.8zM293.5 86.9h.8v.8h-.8zM296.8 87.5h.8v.8h-.8zM295.6 85.6h.8v.8h-.8zM293.4 81.4h.8v.8h-.8zM299.4 89.7h.8v.8h-.8zM298.5 86.2h.8v.8h-.8zM296.7 82.7h.8v.8h-.8zM296.4 82.3h.8v.8h-.8zM291.2 89.6h.8v.8h-.8zM298.4 94.0h.8v.8h-.8zM292.3 84.4h.8v.8h-.8zM293.2 85.1h.8v.8h-.8zM294.6 81.5h.8v.8h-.8zM300.3 81.4h.8v.8h-.8zM293.2 86.7h.8v.8h-.8zM293.1 82.8h.8v.8h-.8zM297.1 83.0h.8v.8h-.8zM294.5 91.3h.8v.8h-.8zM290.6 88.4h.8v.8h-.8zM292.0 83.1h.8v.8h-.8zM294.0 85.6h.8v.8h-.8zM299.4 91.5h.8v.8h-.8zM292.6 89.8h.8v.8h-.8zM300.0 87.8h.8v.8h-.8zM292.1 88.1h.8v.8h-.8zM295.0 85.9h.8v.8h-.8zM294.3 87.2h.8v.8h-.8zM300.5 89.0h.8v.8h-.8zM294.6 88.5h.8v.8h-.8z" fill="#000" fill-opacity="0.16"/>
<path d="M302.0 80.8h.8v.8h-.8zM302.1 79.2h.8v.8h-.8zM297.9 86.9h.8v.8h-.8z" fill="#000" fill-opacity="0.16"/>
<path d="M303.4 91.4h.8v.8h-.8zM293.6 86.0h.8v.8h-.8zM294.8 86.4h.8v.8h-.8zM298.7 86.2h.8v.8h-.8zM293.8 87.7h.8v.8h-.8zM304.3 97.3h.8v.8h-.8zM295.2 82.1h.8v.8h-.8zM297.4 90.4h.8v.8h-.8zM297.7 92.8h.8v.8h-.8zM294.4 94.6h.8v.8h-.8zM300.2 91.1h.8v.8h-.8zM294.0 87.6h.8v.8h-.8zM299.5 84.5h.8v.8h-.8zM295.2 86.3h.8v.8h-.8zM295.9 90.2h.8v.8h-.8zM300.4 82.5h.8v.8h-.8zM295.7 91.4h.8v.8h-.8zM300.2 84.6h.8v.8h-.8zM299.6 91.1h.8v.8h-.8zM302.8 95.7h.8v.8h-.8zM296.0 87.9h.8v.8h-.8zM294.3 85.3h.8v.8h-.8zM295.9 80.6h.8v.8h-.8zM295.6 92.1h.8v.8h-.8zM301.0 88.3h.8v.8h-.8zM302.9 86.7h.8v.8h-.8zM295.3 80.6h.8v.8h-.8zM292.2 86.0h.8v.8h-.8zM303.3 92.6h.8v.8h-.8zM290.6 92.6h.8v.8h-.8z" fill="#000" fill-opacity="0.1"/>
<path d="M298.4 88.9h.8v.8h-.8zM296.1 88.5h.8v.8h-.8zM293.4 81.3h.8v.8h-.8zM295.6 96.3h.8v.8h-.8zM303.0 88.6h.8v.8h-.8zM292.4 89.0h.8v.8h-.8zM300.4 91.7h.8v.8h-.8zM293.2 91.8h.8v.8h-.8zM295.0 92.5h.8v.8h-.8zM294.0 82.8h.8v.8h-.8zM296.3 93.7h.8v.8h-.8zM290.6 89.5h.8v.8h-.8zM300.3 88.2h.8v.8h-.8zM292.8 99.9h.8v.8h-.8zM300.0 95.0h.8v.8h-.8zM291.4 98.0h.8v.8h-.8zM299.6 96.5h.8v.8h-.8zM291.5 86.8h.8v.8h-.8zM297.0 80.6h.8v.8h-.8zM299.1 92.7h.8v.8h-.8zM293.8 92.6h.8v.8h-.8zM299.8 91.5h.8v.8h-.8zM298.5 97.4h.8v.8h-.8zM293.7 90.8h.8v.8h-.8zM293.5 95.0h.8v.8h-.8zM294.0 92.3h.8v.8h-.8zM296.7 90.3h.8v.8h-.8zM304.3 89.6h.8v.8h-.8zM302.9 94.0h.8v.8h-.8zM302.4 89.2h.8v.8h-.8z" fill="#000" fill-opacity="0.1"/>
<path d="M300.5 93.7h.8v.8h-.8zM293.0 91.3h.8v.8h-.8zM295.4 89.8h.8v.8h-.8zM302.3 86.5h.8v.8h-.8zM293.8 86.9h.8v.8h-.8zM296.1 92.7h.8v.8h-.8zM304.5 91.5h.8v.8h-.8zM298.2 86.5h.8v.8h-.8zM298.8 96.6h.8v.8h-.8zM302.5 80.6h.8v.8h-.8zM300.3 97.6h.8v.8h-.8zM300.0 82.8h.8v.8h-.8zM294.5 92.8h.8v.8h-.8zM298.0 86.1h.8v.8h-.8zM291.7 94.7h.8v.8h-.8zM296.1 91.4h.8v.8h-.8zM299.3 82.9h.8v.8h-.8zM306.0 83.2h.8v.8h-.8zM290.1 90.2h.8v.8h-.8zM298.3 93.5h.8v.8h-.8zM294.2 89.0h.8v.8h-.8zM294.9 87.2h.8v.8h-.8zM297.2 90.8h.8v.8h-.8zM293.0 91.2h.8v.8h-.8zM295.9 89.6h.8v.8h-.8zM301.3 81.7h.8v.8h-.8zM297.2 84.9h.8v.8h-.8zM294.5 97.2h.8v.8h-.8zM290.8 89.5h.8v.8h-.8zM293.2 94.6h.8v.8h-.8z" fill="#000" fill-opacity="0.1"/>
<path d="M291.3 81.9h.8v.8h-.8zM298.5 88.3h.8v.8h-.8z" fill="#000" fill-opacity="0.1"/>
<ellipse cx="302" cy="66.5" rx="9" ry="7" fill="url(#rg)" opacity="0.12"/>
<path d="M299.0 71.7h.8v.8h-.8zM295.5 64.7h.8v.8h-.8zM301.9 68.5h.8v.8h-.8zM297.8 71.5h.8v.8h-.8zM315.0 64.5h.8v.8h-.8zM312.7 56.4h.8v.8h-.8zM309.8 64.8h.8v.8h-.8zM301.9 64.9h.8v.8h-.8zM297.0 60.4h.8v.8h-.8zM298.5 72.7h.8v.8h-.8zM308.1 64.8h.8v.8h-.8zM297.7 63.1h.8v.8h-.8zM293.5 75.2h.8v.8h-.8zM305.1 67.1h.8v.8h-.8zM297.9 61.6h.8v.8h-.8zM309.2 70.2h.8v.8h-.8zM295.1 71.2h.8v.8h-.8zM294.1 69.6h.8v.8h-.8zM295.0 64.5h.8v.8h-.8zM304.1 68.6h.8v.8h-.8zM307.3 62.5h.8v.8h-.8zM310.9 73.0h.8v.8h-.8zM300.9 68.7h.8v.8h-.8zM296.1 65.8h.8v.8h-.8zM292.8 66.9h.8v.8h-.8zM302.2 72.9h.8v.8h-.8zM306.9 70.4h.8v.8h-.8zM298.7 65.4h.8v.8h-.8zM298.9 67.6h.8v.8h-.8zM291.2 64.0h.8v.8h-.8z" fill="#000" fill-opacity="0.13"/>
<path d="M301.1 64.0h.8v.8h-.8zM311.4 66.0h.8v.8h-.8zM310.8 72.1h.8v.8h-.8zM297.9 68.4h.8v.8h-.8zM309.1 64.9h.8v.8h-.8zM301.6 63.8h.8v.8h-.8zM301.4 64.8h.8v.8h-.8zM301.5 71.3h.8v.8h-.8zM309.7 67.1h.8v.8h-.8zM302.3 70.6h.8v.8h-.8zM299.2 61.4h.8v.8h-.8zM307.9 62.0h.8v.8h-.8zM306.8 61.9h.8v.8h-.8zM312.4 61.5h.8v.8h-.8zM306.3 73.7h.8v.8h-.8zM295.0 73.6h.8v.8h-.8zM295.9 58.0h.8v.8h-.8zM305.5 69.9h.8v.8h-.8zM299.7 54.4h.8v.8h-.8zM300.7 65.0h.8v.8h-.8zM298.6 65.1h.8v.8h-.8zM312.2 73.9h.8v.8h-.8zM298.7 63.1h.8v.8h-.8zM303.5 71.6h.8v.8h-.8zM305.5 60.9h.8v.8h-.8zM302.0 67.2h.8v.8h-.8zM310.0 72.2h.8v.8h-.8zM304.3 72.3h.8v.8h-.8zM298.5 73.9h.8v.8h-.8zM298.3 68.4h.8v.8h-.8z" fill="#000" fill-opacity="0.13"/>
<path d="M306.7 62.1h.8v.8h-.8zM296.6 58.1h.8v.8h-.8zM302.0 66.2h.8v.8h-.8zM299.0 68.9h.8v.8h-.8zM301.5 65.2h.8v.8h-.8zM306.0 74.9h.8v.8h-.8zM298.2 62.0h.8v.8h-.8zM297.2 66.9h.8v.8h-.8zM304.7 62.4h.8v.8h-.8zM307.2 61.6h.8v.8h-.8zM306.2 68.6h.8v.8h-.8zM303.9 76.9h.8v.8h-.8zM299.4 65.7h.8v.8h-.8zM304.0 70.6h.8v.8h-.8zM292.6 67.8h.8v.8h-.8zM296.4 69.5h.8v.8h-.8zM309.5 66.7h.8v.8h-.8zM300.3 67.4h.8v.8h-.8zM304.5 67.3h.8v.8h-.8zM298.5 63.0h.8v.8h-.8zM299.9 72.3h.8v.8h-.8zM300.4 73.0h.8v.8h-.8zM302.7 66.4h.8v.8h-.8zM290.6 63.3h.8v.8h-.8zM308.8 60.3h.8v.8h-.8zM294.8 61.2h.8v.8h-.8zM297.6 69.6h.8v.8h-.8zM304.7 56.8h.8v.8h-.8zM310.1 63.7h.8v.8h-.8zM297.3 74.5h.8v.8h-.8z" fill="#000" fill-opacity="0.13"/>
<path d="M300.5 60.5h.8v.8h-.8zM297.0 63.0h.8v.8h-.8zM294.7 64.9h.8v.8h-.8zM306.5 68.2h.8v.8h-.8zM292.4 79.9h.8v.8h-.8zM294.8 67.1h.8v.8h-.8zM301.2 70.2h.8v.8h-.8zM299.0 68.7h.8v.8h-.8zM314.1 67.0h.8v.8h-.8zM294.2 68.1h.8v.8h-.8zM296.0 64.7h.8v.8h-.8zM302.2 68.1h.8v.8h-.8zM299.2 70.6h.8v.8h-.8zM299.8 60.2h.8v.8h-.8zM306.5 64.8h.8v.8h-.8zM308.6 63.4h.8v.8h-.8zM304.6 68.0h.8v.8h-.8zM294.0 73.3h.8v.8h-.8zM307.8 68.9h.8v.8h-.8zM305.2 64.1h.8v.8h-.8zM300.9 67.6h.8v.8h-.8zM303.6 69.9h.8v.8h-.8zM299.7 63.1h.8v.8h-.8zM297.5 68.5h.8v.8h-.8zM290.6 60.5h.8v.8h-.8zM298.4 63.8h.8v.8h-.8zM299.3 53.7h.8v.8h-.8zM298.9 65.3h.8v.8h-.8zM305.8 57.0h.8v.8h-.8zM299.1 68.8h.8v.8h-.8z" fill="#000" fill-opacity="0.13"/>
<path d="M304.1 72.2h.8v.8h-.8zM307.6 61.5h.8v.8h-.8zM305.0 64.9h.8v.8h-.8zM296.0 73.9h.8v.8h-.8zM297.1 62.4h.8v.8h-.8zM298.5 62.4h.8v.8h-.8zM307.3 68.3h.8v.8h-.8zM309.8 68.5h.8v.8h-.8zM297.2 71.5h.8v.8h-.8zM296.9 64.3h.8v.8h-.8zM300.0 66.7h.8v.8h-.8zM308.5 63.6h.8v.8h-.8zM303.2 66.4h.8v.8h-.8zM293.1 61.2h.8v.8h-.8zM299.6 68.4h.8v.8h-.8zM303.0 68.8h.8v.8h-.8zM301.3 64.3h.8v.8h-.8zM303.7 61.7h.8v.8h-.8zM292.6 64.9h.8v.8h-.8zM292.0 64.0h.8v.8h-.8zM296.3 63.8h.8v.8h-.8zM300.7 62.6h.8v.8h-.8zM298.4 58.3h.8v.8h-.8zM301.9 62.3h.8v.8h-.8zM303.5 52.9h.8v.8h-.8zM296.0 67.7h.8v.8h-.8zM301.6 67.0h.8v.8h-.8zM291.6 67.6h.8v.8h-.8zM301.9 61.8h.8v.8h-.8zM305.7 66.3h.8v.8h-.8z" fill="#000" fill-opacity="0.13"/>
<path d="M301.1 64.3h.8v.8h-.8zM304.4 67.0h.8v.8h-.8zM308.1 68.7h.8v.8h-.8zM297.1 65.4h.8v.8h-.8zM306.8 64.7h.8v.8h-.8zM303.4 69.0h.8v.8h-.8zM299.9 55.3h.8v.8h-.8zM301.8 67.5h.8v.8h-.8zM301.9 62.8h.8v.8h-.8zM308.6 65.8h.8v.8h-.8zM297.1 63.0h.8v.8h-.8zM303.3 61.2h.8v.8h-.8zM294.7 76.2h.8v.8h-.8zM309.2 71.6h.8v.8h-.8zM309.6 69.4h.8v.8h-.8zM290.4 72.3h.8v.8h-.8zM308.8 68.9h.8v.8h-.8zM309.6 64.1h.8v.8h-.8zM301.8 70.3h.8v.8h-.8zM300.5 71.8h.8v.8h-.8zM301.5 69.8h.8v.8h-.8zM301.5 59.3h.8v.8h-.8zM294.7 81.8h.8v.8h-.8zM302.8 72.8h.8v.8h-.8zM308.2 74.8h.8v.8h-.8zM304.5 63.6h.8v.8h-.8zM301.1 57.2h.8v.8h-.8zM299.8 70.9h.8v.8h-.8zM306.2 72.9h.8v.8h-.8zM295.2 63.3h.8v.8h-.8z" fill="#000" fill-opacity="0.13"/>
<path d="M304.4 76.5h.8v.8h-.8zM293.8 73.2h.8v.8h-.8zM303.7 64.1h.8v.8h-.8zM314.8 54.3h.8v.8h-.8zM300.6 67.6h.8v.8h-.8zM314.4 75.2h.8v.8h-.8zM315.3 67.2h.8v.8h-.8zM307.2 73.1h.8v.8h-.8zM304.2 68.2h.8v.8h-.8zM299.8 64.5h.8v.8h-.8zM293.2 76.0h.8v.8h-.8zM298.2 56.4h.8v.8h-.8zM302.7 66.3h.8v.8h-.8zM302.1 75.3h.8v.8h-.8zM300.3 65.2h.8v.8h-.8zM296.3 66.4h.8v.8h-.8zM298.2 67.5h.8v.8h-.8zM320.7 68.4h.8v.8h-.8zM295.6 75.9h.8v.8h-.8zM306.5 70.5h.8v.8h-.8zM305.5 70.5h.8v.8h-.8zM305.3 73.4h.8v.8h-.8zM307.4 73.1h.8v.8h-.8zM297.8 66.5h.8v.8h-.8zM296.4 71.2h.8v.8h-.8zM306.3 64.2h.8v.8h-.8zM304.7 79.3h.8v.8h-.8zM308.8 61.1h.8v.8h-.8zM300.4 69.6h.8v.8h-.8zM300.8 68.4h.8v.8h-.8z" fill="#000" fill-opacity="0.13"/>
<path d="M308.5 68.1h.8v.8h-.8zM294.1 70.0h.8v.8h-.8zM300.4 67.1h.8v.8h-.8zM297.4 59.8h.8v.8h-.8zM293.1 64.8h.8v.8h-.8zM294.2 53.3h.8v.8h-.8zM308.3 60.8h.8v.8h-.8zM296.4 69.1h.8v.8h-.8zM296.1 69.7h.8v.8h-.8zM298.0 68.0h.8v.8h-.8zM301.7 66.5h.8v.8h-.8zM300.7 73.4h.8v.8h-.8zM297.5 69.1h.8v.8h-.8zM302.0 68.9h.8v.8h-.8zM307.3 59.2h.8v.8h-.8zM302.7 65.6h.8v.8h-.8zM299.0 62.3h.8v.8h-.8zM296.0 61.5h.8v.8h-.8zM294.0 78.7h.8v.8h-.8zM311.8 66.5h.8v.8h-.8zM305.7 61.7h.8v.8h-.8zM301.9 73.5h.8v.8h-.8zM300.7 61.6h.8v.8h-.8zM299.5 61.6h.8v.8h-.8zM292.2 65.4h.8v.8h-.8zM298.5 62.5h.8v.8h-.8zM295.4 62.0h.8v.8h-.8zM302.5 73.3h.8v.8h-.8zM299.7 77.4h.8v.8h-.8zM290.8 67.8h.8v.8h-.8z" fill="#000" fill-opacity="0.13"/>
<path d="M293.7 65.7h.8v.8h-.8zM301.6 69.2h.8v.8h-.8zM308.2 63.8h.8v.8h-.8zM293.1 65.6h.8v.8h-.8zM302.9 63.1h.8v.8h-.8zM306.7 74.7h.8v.8h-.8zM292.0 68.3h.8v.8h-.8zM307.4 57.1h.8v.8h-.8zM302.3 65.4h.8v.8h-.8zM292.0 72.9h.8v.8h-.8zM302.4 64.2h.8v.8h-.8zM303.8 69.6h.8v.8h-.8zM305.9 69.3h.8v.8h-.8zM303.6 60.8h.8v.8h-.8zM298.3 67.1h.8v.8h-.8zM298.6 61.4h.8v.8h-.8zM301.2 63.7h.8v.8h-.8zM298.4 62.2h.8v.8h-.8zM296.3 66.0h.8v.8h-.8zM296.9 69.8h.8v.8h-.8zM300.1 67.1h.8v.8h-.8zM303.6 72.7h.8v.8h-.8zM304.8 67.6h.8v.8h-.8zM300.0 62.6h.8v.8h-.8zM298.8 69.8h.8v.8h-.8zM302.4 64.6h.8v.8h-.8zM292.6 59.0h.8v.8h-.8zM303.0 71.5h.8v.8h-.8zM303.4 59.8h.8v.8h-.8zM299.7 67.6h.8v.8h-.8z" fill="#000" fill-opacity="0.13"/>
<path d="M295.2 68.2h.8v.8h-.8zM299.7 62.4h.8v.8h-.8zM293.1 70.5h.8v.8h-.8zM303.3 62.2h.8v.8h-.8zM294.6 70.8h.8v.8h-.8zM304.8 65.0h.8v.8h-.8zM311.1 65.1h.8v.8h-.8zM294.3 71.8h.8v.8h-.8zM299.8 68.2h.8v.8h-.8zM301.2 61.6h.8v.8h-.8zM293.5 65.6h.8v.8h-.8zM309.9 61.6h.8v.8h-.8zM309.6 67.6h.8v.8h-.8zM294.0 67.8h.8v.8h-.8zM304.6 62.1h.8v.8h-.8zM294.0 68.6h.8v.8h-.8zM295.9 59.3h.8v.8h-.8zM299.5 67.3h.8v.8h-.8zM297.5 60.8h.8v.8h-.8zM302.3 58.0h.8v.8h-.8zM304.4 68.9h.8v.8h-.8zM311.6 70.8h.8v.8h-.8zM303.2 67.8h.8v.8h-.8zM301.2 60.1h.8v.8h-.8zM310.2 69.1h.8v.8h-.8zM299.2 60.9h.8v.8h-.8zM310.4 69.1h.8v.8h-.8zM293.5 69.8h.8v.8h-.8zM313.0 66.4h.8v.8h-.8zM303.5 64.5h.8v.8h-.8z" fill="#000" fill-opacity="0.13"/>
<path d="M297.0 71.7h.8v.8h-.8zM320.4 67.1h.8v.8h-.8zM300.2 70.4h.8v.8h-.8zM299.1 70.0h.8v.8h-.8zM306.2 61.6h.8v.8h-.8zM294.2 66.1h.8v.8h-.8zM306.3 67.8h.8v.8h-.8zM308.8 59.8h.8v.8h-.8zM304.1 63.5h.8v.8h-.8zM301.6 68.1h.8v.8h-.8zM294.9 65.4h.8v.8h-.8zM293.7 67.8h.8v.8h-.8z" fill="#000" fill-opacity="0.13"/>
<path d="M303.5 65.6h.8v.8h-.8zM306.6 65.1h.8v.8h-.8zM309.3 65.1h.8v.8h-.8zM308.5 67.8h.8v.8h-.8zM303.0 66.4h.8v.8h-.8zM303.6 65.9h.8v.8h-.8zM305.2 72.3h.8v.8h-.8zM304.8 71.6h.8v.8h-.8zM307.3 63.2h.8v.8h-.8zM299.3 69.0h.8v.8h-.8zM300.2 69.1h.8v.8h-.8zM309.0 68.1h.8v.8h-.8zM305.4 66.3h.8v.8h-.8zM306.8 66.1h.8v.8h-.8zM304.4 65.9h.8v.8h-.8zM309.4 65.2h.8v.8h-.8zM307.1 63.7h.8v.8h-.8zM303.9 63.0h.8v.8h-.8zM305.4 69.0h.8v.8h-.8zM306.9 65.6h.8v.8h-.8zM307.8 66.0h.8v.8h-.8zM307.1 67.8h.8v.8h-.8zM307.6 59.8h.8v.8h-.8zM302.2 69.2h.8v.8h-.8zM305.7 73.5h.8v.8h-.8zM305.3 65.4h.8v.8h-.8zM310.3 68.6h.8v.8h-.8zM311.5 68.5h.8v.8h-.8zM305.4 69.1h.8v.8h-.8zM303.7 65.7h.8v.8h-.8z" fill="#000" fill-opacity="0.15"/>
<path d="M304.4 66.4h.8v.8h-.8zM308.3 65.6h.8v.8h-.8zM306.9 65.6h.8v.8h-.8zM308.6 59.0h.8v.8h-.8zM305.4 67.5h.8v.8h-.8zM302.9 69.9h.8v.8h-.8zM306.6 70.7h.8v.8h-.8zM308.8 68.9h.8v.8h-.8zM305.6 63.8h.8v.8h-.8zM305.4 65.7h.8v.8h-.8zM306.7 65.7h.8v.8h-.8zM314.9 62.4h.8v.8h-.8zM309.4 65.6h.8v.8h-.8zM305.3 69.7h.8v.8h-.8zM306.0 63.5h.8v.8h-.8zM307.2 66.4h.8v.8h-.8zM300.0 67.6h.8v.8h-.8zM302.9 64.8h.8v.8h-.8zM307.4 67.9h.8v.8h-.8zM305.2 73.3h.8v.8h-.8zM307.2 65.2h.8v.8h-.8zM306.7 66.6h.8v.8h-.8zM299.6 62.4h.8v.8h-.8zM302.0 73.0h.8v.8h-.8zM305.5 66.2h.8v.8h-.8zM304.4 69.8h.8v.8h-.8zM306.1 71.9h.8v.8h-.8zM308.3 71.8h.8v.8h-.8zM305.7 68.1h.8v.8h-.8zM304.7 66.5h.8v.8h-.8z" fill="#000" fill-opacity="0.15"/>
<path d="M303.3 67.8h.8v.8h-.8zM306.3 67.5h.8v.8h-.8zM314.7 71.0h.8v.8h-.8zM314.7 73.3h.8v.8h-.8zM313.5 73.9h.8v.8h-.8zM307.7 73.1h.8v.8h-.8zM308.8 68.0h.8v.8h-.8zM314.6 78.3h.8v.8h-.8zM306.2 76.7h.8v.8h-.8zM313.2 66.7h.8v.8h-.8zM311.1 71.4h.8v.8h-.8zM311.4 68.6h.8v.8h-.8zM305.0 70.1h.8v.8h-.8zM313.3 73.0h.8v.8h-.8zM312.5 74.2h.8v.8h-.8zM306.2 69.8h.8v.8h-.8zM311.3 73.9h.8v.8h-.8zM310.6 72.0h.8v.8h-.8zM310.5 78.1h.8v.8h-.8zM301.6 69.9h.8v.8h-.8zM319.5 70.9h.8v.8h-.8zM302.9 70.5h.8v.8h-.8zM304.5 67.4h.8v.8h-.8zM310.9 76.6h.8v.8h-.8zM311.8 72.6h.8v.8h-.8zM313.9 70.8h.8v.8h-.8zM306.7 69.6h.8v.8h-.8zM311.3 68.9h.8v.8h-.8zM307.4 68.6h.8v.8h-.8zM304.2 66.1h.8v.8h-.8z" fill="#000" fill-opacity="0.12"/>
<path d="M309.7 68.6h.8v.8h-.8zM310.1 75.4h.8v.8h-.8zM311.2 69.9h.8v.8h-.8zM305.5 65.8h.8v.8h-.8zM311.4 66.6h.8v.8h-.8zM311.7 65.9h.8v.8h-.8zM310.5 69.7h.8v.8h-.8zM313.8 68.5h.8v.8h-.8zM308.6 70.9h.8v.8h-.8zM310.2 76.5h.8v.8h-.8zM309.0 67.9h.8v.8h-.8zM308.8 71.8h.8v.8h-.8zM310.9 72.7h.8v.8h-.8zM304.7 79.5h.8v.8h-.8zM317.1 69.9h.8v.8h-.8zM305.3 70.6h.8v.8h-.8zM311.6 61.4h.8v.8h-.8zM310.1 64.3h.8v.8h-.8zM311.8 75.3h.8v.8h-.8zM314.0 64.2h.8v.8h-.8zM315.3 73.5h.8v.8h-.8zM308.6 71.9h.8v.8h-.8zM315.8 68.7h.8v.8h-.8zM309.9 67.8h.8v.8h-.8zM314.5 61.7h.8v.8h-.8zM315.5 66.3h.8v.8h-.8zM313.6 63.7h.8v.8h-.8zM306.4 67.7h.8v.8h-.8zM313.2 63.8h.8v.8h-.8zM312.3 67.6h.8v.8h-.8z" fill="#000" fill-opacity="0.12"/>
<path d="M314.8 68.8h.8v.8h-.8zM311.9 69.3h.8v.8h-.8zM316.9 68.6h.8v.8h-.8zM309.9 77.6h.8v.8h-.8zM310.3 72.6h.8v.8h-.8zM307.2 70.8h.8v.8h-.8zM301.3 70.4h.8v.8h-.8zM307.5 64.2h.8v.8h-.8zM304.5 74.4h.8v.8h-.8zM311.6 64.2h.8v.8h-.8zM317.0 67.3h.8v.8h-.8zM308.6 70.9h.8v.8h-.8zM305.6 63.8h.8v.8h-.8zM307.1 74.5h.8v.8h-.8zM313.7 63.9h.8v.8h-.8zM314.6 70.1h.8v.8h-.8zM311.9 70.2h.8v.8h-.8zM311.6 66.1h.8v.8h-.8zM306.5 67.3h.8v.8h-.8zM308.6 72.4h.8v.8h-.8zM305.3 76.1h.8v.8h-.8zM307.6 67.7h.8v.8h-.8zM312.7 71.7h.8v.8h-.8zM308.7 65.9h.8v.8h-.8zM306.2 63.8h.8v.8h-.8zM314.4 74.2h.8v.8h-.8zM317.2 71.9h.8v.8h-.8zM311.3 72.9h.8v.8h-.8zM313.7 69.0h.8v.8h-.8zM311.4 78.3h.8v.8h-.8z" fill="#000" fill-opacity="0.12"/>
<ellipse cx="317.5" cy="79.5" rx="9" ry="5" fill="url(#rg)" opacity="0.12"/>
<path d="M308.2 74.1h.8v.8h-.8zM312.4 82.4h.8v.8h-.8zM324.9 78.2h.8v.8h-.8zM321.9 79.3h.8v.8h-.8zM319.7 77.4h.8v.8h-.8zM317.8 79.5h.8v.8h-.8zM324.5 88.1h.8v.8h-.8zM307.5 81.6h.8v.8h-.8zM318.0 83.2h.8v.8h-.8zM324.1 82.5h.8v.8h-.8zM322.7 75.8h.8v.8h-.8zM308.1 85.9h.8v.8h-.8zM325.0 75.8h.8v.8h-.8zM325.5 82.1h.8v.8h-.8zM303.8 83.0h.8v.8h-.8zM312.3 84.0h.8v.8h-.8zM314.1 76.6h.8v.8h-.8zM309.1 78.7h.8v.8h-.8zM323.9 76.9h.8v.8h-.8zM307.3 87.8h.8v.8h-.8zM328.7 82.2h.8v.8h-.8zM314.9 74.8h.8v.8h-.8zM308.5 81.7h.8v.8h-.8zM325.5 75.4h.8v.8h-.8zM318.0 78.4h.8v.8h-.8zM316.5 81.4h.8v.8h-.8zM330.1 77.0h.8v.8h-.8zM322.9 83.7h.8v.8h-.8zM316.4 78.9h.8v.8h-.8zM310.2 83.7h.8v.8h-.8z" fill="#000" fill-opacity="0.13"/>
<path d="M314.9 77.0h.8v.8h-.8zM318.4 76.2h.8v.8h-.8zM312.0 78.4h.8v.8h-.8zM326.6 78.7h.8v.8h-.8zM321.0 73.8h.8v.8h-.8zM306.7 86.5h.8v.8h-.8zM315.7 73.6h.8v.8h-.8zM317.4 81.8h.8v.8h-.8zM308.0 76.1h.8v.8h-.8zM319.5 75.9h.8v.8h-.8zM322.6 83.2h.8v.8h-.8zM320.6 77.8h.8v.8h-.8zM317.7 77.1h.8v.8h-.8zM317.2 80.7h.8v.8h-.8zM316.3 83.3h.8v.8h-.8zM333.0 77.4h.8v.8h-.8zM320.0 82.7h.8v.8h-.8zM321.7 78.6h.8v.8h-.8zM315.2 83.4h.8v.8h-.8zM321.6 81.5h.8v.8h-.8zM313.3 81.9h.8v.8h-.8zM322.6 78.8h.8v.8h-.8zM321.7 87.9h.8v.8h-.8zM307.1 81.8h.8v.8h-.8zM311.2 74.2h.8v.8h-.8zM316.6 81.6h.8v.8h-.8zM318.3 75.0h.8v.8h-.8zM309.7 77.3h.8v.8h-.8zM318.1 76.3h.8v.8h-.8zM309.3 86.3h.8v.8h-.8z" fill="#000" fill-opacity="0.13"/>
<path d="M313.1 78.9h.8v.8h-.8zM314.8 77.2h.8v.8h-.8zM318.2 78.3h.8v.8h-.8zM321.6 74.9h.8v.8h-.8zM309.4 87.0h.8v.8h-.8zM317.6 82.5h.8v.8h-.8zM324.8 81.6h.8v.8h-.8zM318.2 73.5h.8v.8h-.8zM308.7 83.3h.8v.8h-.8zM321.9 81.7h.8v.8h-.8zM308.4 71.2h.8v.8h-.8zM311.9 74.9h.8v.8h-.8zM318.9 75.5h.8v.8h-.8zM327.2 77.1h.8v.8h-.8zM314.7 82.8h.8v.8h-.8zM319.9 76.0h.8v.8h-.8zM322.8 87.0h.8v.8h-.8zM310.9 78.5h.8v.8h-.8zM311.7 72.0h.8v.8h-.8zM321.6 82.2h.8v.8h-.8zM323.7 81.2h.8v.8h-.8zM306.3 79.4h.8v.8h-.8zM314.1 74.9h.8v.8h-.8zM311.6 82.5h.8v.8h-.8zM316.3 87.1h.8v.8h-.8zM320.7 72.1h.8v.8h-.8zM323.2 84.4h.8v.8h-.8zM318.2 74.8h.8v.8h-.8zM328.3 74.4h.8v.8h-.8zM317.5 72.1h.8v.8h-.8z" fill="#000" fill-opacity="0.13"/>
<path d="M310.7 72.9h.8v.8h-.8zM324.4 84.1h.8v.8h-.8zM315.6 74.2h.8v.8h-.8zM317.6 81.0h.8v.8h-.8zM309.1 75.0h.8v.8h-.8zM317.4 82.2h.8v.8h-.8zM318.4 81.3h.8v.8h-.8zM310.7 69.8h.8v.8h-.8zM319.8 75.9h.8v.8h-.8zM317.3 78.0h.8v.8h-.8zM320.8 76.5h.8v.8h-.8zM326.5 79.6h.8v.8h-.8zM321.1 82.0h.8v.8h-.8zM324.1 81.1h.8v.8h-.8zM307.8 77.0h.8v.8h-.8zM328.9 81.3h.8v.8h-.8zM321.3 81.3h.8v.8h-.8zM314.2 76.9h.8v.8h-.8zM314.2 84.0h.8v.8h-.8zM320.1 86.5h.8v.8h-.8zM320.9 86.9h.8v.8h-.8zM320.7 74.9h.8v.8h-.8zM328.2 80.8h.8v.8h-.8zM325.0 80.3h.8v.8h-.8zM316.1 80.2h.8v.8h-.8zM311.4 74.8h.8v.8h-.8zM312.8 77.4h.8v.8h-.8zM310.0 79.1h.8v.8h-.8zM319.8 87.5h.8v.8h-.8zM328.8 79.3h.8v.8h-.8z" fill="#000" fill-opacity="0.13"/>
<path d="M323.2 78.6h.8v.8h-.8zM320.3 79.4h.8v.8h-.8zM314.8 79.8h.8v.8h-.8zM309.3 81.2h.8v.8h-.8zM316.3 75.2h.8v.8h-.8zM315.9 81.7h.8v.8h-.8zM314.0 81.4h.8v.8h-.8zM321.4 85.6h.8v.8h-.8zM311.6 79.1h.8v.8h-.8zM321.0 85.4h.8v.8h-.8zM319.5 82.5h.8v.8h-.8zM309.3 77.2h.8v.8h-.8zM327.8 78.4h.8v.8h-.8zM330.8 76.6h.8v.8h-.8zM316.4 73.2h.8v.8h-.8zM321.8 80.5h.8v.8h-.8zM329.9 80.2h.8v.8h-.8zM316.5 73.9h.8v.8h-.8zM317.5 83.2h.8v.8h-.8zM322.4 84.3h.8v.8h-.8zM323.1 79.3h.8v.8h-.8zM321.6 80.2h.8v.8h-.8zM310.1 86.3h.8v.8h-.8zM320.2 75.3h.8v.8h-.8zM320.3 80.6h.8v.8h-.8zM323.9 85.2h.8v.8h-.8zM300.0 81.7h.8v.8h-.8zM327.1 75.8h.8v.8h-.8zM307.0 80.6h.8v.8h-.8zM320.0 80.9h.8v.8h-.8z" fill="#000" fill-opacity="0.13"/>
<path d="M311.4 77.7h.8v.8h-.8zM319.2 82.4h.8v.8h-.8zM331.0 80.7h.8v.8h-.8zM314.4 70.2h.8v.8h-.8zM324.4 79.0h.8v.8h-.8zM317.3 75.6h.8v.8h-.8zM322.4 72.4h.8v.8h-.8zM318.6 80.0h.8v.8h-.8zM319.8 84.7h.8v.8h-.8zM317.4 79.9h.8v.8h-.8zM323.1 73.4h.8v.8h-.8zM316.3 79.8h.8v.8h-.8zM323.7 76.3h.8v.8h-.8zM322.8 81.0h.8v.8h-.8zM309.1 73.6h.8v.8h-.8zM309.5 80.1h.8v.8h-.8zM319.2 82.4h.8v.8h-.8zM322.9 77.3h.8v.8h-.8zM324.4 82.8h.8v.8h-.8zM320.8 81.4h.8v.8h-.8zM310.3 80.9h.8v.8h-.8zM311.8 74.8h.8v.8h-.8zM315.9 80.1h.8v.8h-.8zM317.7 78.2h.8v.8h-.8zM312.0 80.2h.8v.8h-.8zM313.6 73.9h.8v.8h-.8zM318.6 85.3h.8v.8h-.8zM315.6 75.3h.8v.8h-.8zM326.3 86.3h.8v.8h-.8zM316.2 78.7h.8v.8h-.8z" fill="#000" fill-opacity="0.13"/>
<path d="M319.3 91.2h.8v.8h-.8zM318.8 83.5h.8v.8h-.8zM320.6 72.3h.8v.8h-.8zM311.4 74.6h.8v.8h-.8zM320.6 79.9h.8v.8h-.8zM328.7 78.4h.8v.8h-.8zM319.8 79.8h.8v.8h-.8zM318.8 88.7h.8v.8h-.8zM319.7 85.4h.8v.8h-.8zM325.8 77.1h.8v.8h-.8zM322.1 78.0h.8v.8h-.8zM318.7 80.1h.8v.8h-.8zM318.1 77.6h.8v.8h-.8zM327.3 78.4h.8v.8h-.8zM322.2 86.2h.8v.8h-.8zM321.7 83.6h.8v.8h-.8zM326.3 83.8h.8v.8h-.8zM328.3 73.8h.8v.8h-.8zM329.7 79.6h.8v.8h-.8zM307.5 76.9h.8v.8h-.8zM309.7 79.4h.8v.8h-.8zM309.1 75.5h.8v.8h-.8zM319.8 80.1h.8v.8h-.8zM313.2 78.6h.8v.8h-.8zM317.4 79.8h.8v.8h-.8zM318.0 78.6h.8v.8h-.8zM323.3 73.1h.8v.8h-.8zM315.0 80.0h.8v.8h-.8zM315.6 77.3h.8v.8h-.8zM315.4 80.3h.8v.8h-.8z" fill="#000" fill-opacity="0.13"/>
<path d="M325.5 78.8h.8v.8h-.8zM316.4 80.9h.8v.8h-.8zM316.5 71.8h.8v.8h-.8zM319.6 78.0h.8v.8h-.8zM314.6 82.0h.8v.8h-.8zM318.3 77.2h.8v.8h-.8zM304.9 72.6h.8v.8h-.8zM318.1 79.0h.8v.8h-.8zM320.6 80.4h.8v.8h-.8zM315.1 74.4h.8v.8h-.8zM311.4 78.9h.8v.8h-.8zM311.1 82.5h.8v.8h-.8zM310.0 72.3h.8v.8h-.8zM316.8 72.4h.8v.8h-.8zM327.8 75.5h.8v.8h-.8zM317.7 78.5h.8v.8h-.8zM313.1 72.4h.8v.8h-.8zM306.8 83.0h.8v.8h-.8zM324.1 88.2h.8v.8h-.8zM309.2 81.7h.8v.8h-.8zM317.9 82.9h.8v.8h-.8zM314.9 82.4h.8v.8h-.8zM323.4 81.9h.8v.8h-.8zM326.7 78.8h.8v.8h-.8zM327.3 76.7h.8v.8h-.8zM328.0 68.5h.8v.8h-.8zM318.1 76.3h.8v.8h-.8zM318.0 83.6h.8v.8h-.8zM322.3 79.9h.8v.8h-.8zM328.2 73.6h.8v.8h-.8z" fill="#000" fill-opacity="0.13"/>
<path d="M313.1 85.5h.8v.8h-.8zM320.0 71.2h.8v.8h-.8zM320.0 74.8h.8v.8h-.8zM326.9 84.1h.8v.8h-.8zM314.7 84.7h.8v.8h-.8zM313.0 83.2h.8v.8h-.8zM321.5 79.0h.8v.8h-.8zM309.5 78.4h.8v.8h-.8zM304.3 77.2h.8v.8h-.8zM306.9 84.4h.8v.8h-.8zM312.2 69.8h.8v.8h-.8zM321.5 81.0h.8v.8h-.8zM315.0 88.0h.8v.8h-.8zM322.6 79.8h.8v.8h-.8zM314.1 67.7h.8v.8h-.8zM320.9 83.3h.8v.8h-.8zM314.4 73.8h.8v.8h-.8zM317.7 72.8h.8v.8h-.8zM318.0 82.6h.8v.8h-.8zM327.1 80.6h.8v.8h-.8z" fill="#000" fill-opacity="0.13"/>
<path d="M323.8 84.5h.8v.8h-.8zM334.6 78.1h.8v.8h-.8zM310.9 75.3h.8v.8h-.8zM310.7 74.7h.8v.8h-.8zM320.9 82.1h.8v.8h-.8zM323.4 80.4h.8v.8h-.8zM318.8 82.5h.8v.8h-.8zM330.0 84.6h.8v.8h-.8zM335.5 78.3h.8v.8h-.8zM319.7 90.2h.8v.8h-.8zM323.8 82.5h.8v.8h-.8zM319.0 85.8h.8v.8h-.8zM318.4 74.0h.8v.8h-.8zM321.5 77.3h.8v.8h-.8zM329.5 77.7h.8v.8h-.8zM323.1 78.7h.8v.8h-.8zM325.1 76.2h.8v.8h-.8zM331.9 71.5h.8v.8h-.8zM318.5 75.7h.8v.8h-.8zM327.8 80.2h.8v.8h-.8zM326.4 78.0h.8v.8h-.8zM315.5 73.3h.8v.8h-.8zM319.0 76.8h.8v.8h-.8zM324.5 82.1h.8v.8h-.8zM330.8 79.4h.8v.8h-.8zM315.3 73.6h.8v.8h-.8zM322.6 82.2h.8v.8h-.8zM339.5 81.1h.8v.8h-.8zM337.8 91.2h.8v.8h-.8zM312.6 87.3h.8v.8h-.8z" fill="#000" fill-opacity="0.08"/>
<path d="M332.2 88.1h.8v.8h-.8zM321.9 85.7h.8v.8h-.8zM317.7 79.6h.8v.8h-.8zM322.2 90.7h.8v.8h-.8zM320.1 85.7h.8v.8h-.8zM322.6 75.7h.8v.8h-.8zM324.2 84.0h.8v.8h-.8zM315.6 83.8h.8v.8h-.8zM315.6 74.7h.8v.8h-.8zM324.0 78.6h.8v.8h-.8zM313.2 70.2h.8v.8h-.8zM322.2 81.5h.8v.8h-.8zM317.9 81.1h.8v.8h-.8zM308.3 82.4h.8v.8h-.8zM325.7 81.7h.8v.8h-.8zM316.5 80.5h.8v.8h-.8zM323.2 86.4h.8v.8h-.8zM324.5 81.5h.8v.8h-.8zM315.5 85.2h.8v.8h-.8zM332.6 77.0h.8v.8h-.8zM327.7 81.8h.8v.8h-.8zM321.6 72.3h.8v.8h-.8zM337.8 68.8h.8v.8h-.8zM324.7 77.7h.8v.8h-.8zM332.3 77.5h.8v.8h-.8zM322.4 83.7h.8v.8h-.8zM326.1 76.9h.8v.8h-.8zM328.1 82.3h.8v.8h-.8zM330.9 76.9h.8v.8h-.8zM321.6 77.7h.8v.8h-.8z" fill="#000" fill-opacity="0.08"/>
<path d="M315.0 64.5h.8v.8h-.8zM329.9 76.2h.8v.8h-.8zM321.1 65.9h.8v.8h-.8zM338.7 60.9h.8v.8h-.8zM325.8 63.3h.8v.8h-.8zM316.7 52.1h.8v.8h-.8zM338.4 63.7h.8v.8h-.8zM324.1 49.6h.8v.8h-.8zM326.4 73.7h.8v.8h-.8zM311.2 53.1h.8v.8h-.8zM338.3 76.3h.8v.8h-.8zM343.6 56.5h.8v.8h-.8zM332.2 54.5h.8v.8h-.8zM331.2 58.4h.8v.8h-.8zM327.3 75.4h.8v.8h-.8zM329.0 59.6h.8v.8h-.8zM325.7 64.6h.8v.8h-.8zM318.9 64.1h.8v.8h-.8zM332.2 77.5h.8v.8h-.8zM300.4 50.2h.8v.8h-.8zM310.2 70.7h.8v.8h-.8zM354.1 63.9h.8v.8h-.8zM326.4 73.3h.8v.8h-.8zM295.9 60.2h.8v.8h-.8z" fill="#000" fill-opacity="0.08"/>
</g>
<rect x="289.30" y="28.30" width="74.30" height="73.20" fill="none" stroke="#777" stroke-width="0.9"/>
<line x1="305.30" y1="28.30" x2="305.30" y2="101.50" stroke="#6a6a6a" stroke-width="0.9"/>
<line x1="289.30" y1="76.30" x2="363.60" y2="76.30" stroke="#6a6a6a" stroke-width="0.9"/>
<line x1="288.10" y1="28.60" x2="289.30" y2="28.60" stroke="#777" stroke-width="0.5"/>
<text x="287.30" y="29.60" font-size="2.8" font-weight="normal" text-anchor="end" fill="#555" >10<tspan font-size="1.8" dy="-1">4</tspan></text>
<line x1="288.10" y1="47.40" x2="289.30" y2="47.40" stroke="#777" stroke-width="0.5"/>
<text x="287.30" y="48.40" font-size="2.8" font-weight="normal" text-anchor="end" fill="#555" >10<tspan font-size="1.8" dy="-1">3</tspan></text>
<line x1="288.10" y1="65.40" x2="289.30" y2="65.40" stroke="#777" stroke-width="0.5"/>
<text x="287.30" y="66.40" font-size="2.8" font-weight="normal" text-anchor="end" fill="#555" >10<tspan font-size="1.8" dy="-1">2</tspan></text>
<line x1="288.10" y1="83.30" x2="289.30" y2="83.30" stroke="#777" stroke-width="0.5"/>
<text x="287.30" y="84.30" font-size="2.8" font-weight="normal" text-anchor="end" fill="#555" >10<tspan font-size="1.8" dy="-1">1</tspan></text>
<line x1="308.30" y1="101.50" x2="308.30" y2="102.70" stroke="#777" stroke-width="0.5"/>
<text x="308.30" y="106.50" font-size="2.8" font-weight="normal" text-anchor="middle" fill="#555" >10<tspan font-size="1.8" dy="-1">1</tspan></text>
<line x1="326.60" y1="101.50" x2="326.60" y2="102.70" stroke="#777" stroke-width="0.5"/>
<text x="326.60" y="106.50" font-size="2.8" font-weight="normal" text-anchor="middle" fill="#555" >10<tspan font-size="1.8" dy="-1">2</tspan></text>
<line x1="345.50" y1="101.50" x2="345.50" y2="102.70" stroke="#777" stroke-width="0.5"/>
<text x="345.50" y="106.50" font-size="2.8" font-weight="normal" text-anchor="middle" fill="#555" >10<tspan font-size="1.8" dy="-1">3</tspan></text>
<line x1="360.70" y1="101.50" x2="360.70" y2="102.70" stroke="#777" stroke-width="0.5"/>
<text x="360.70" y="106.50" font-size="2.8" font-weight="normal" text-anchor="middle" fill="#555" >10<tspan font-size="1.8" dy="-1">4</tspan></text>
<text x="291.30" y="31.59" font-size="2.2" font-weight="normal" text-anchor="start" fill="#999" >Q1</text>
<text x="307.30" y="31.59" font-size="2.2" font-weight="normal" text-anchor="start" fill="#999" >Q2</text>
<text x="323.50" y="26.08" font-size="8.6" font-weight="bold" text-anchor="middle" fill="#000" >SGI-1776 5µM</text>
<line x1="192.70" y1="111.00" x2="192.70" y2="76.50" stroke="#000" stroke-width="1.3"/>
<polygon points="192.7,71.8 189.8,78 195.6,78" fill="#000"/>
<line x1="192.00" y1="110.50" x2="225.00" y2="110.50" stroke="#000" stroke-width="1.3"/>
<polygon points="229.6,110.5 223.5,107.6 223.5,113.4" fill="#000"/>
<text transform="translate(185.20,84.80) rotate(-90)" x="0" y="2.31" font-size="6.45" font-weight="bold" text-anchor="middle" fill="#000" >Propidium Iodide</text>
<text x="191.00" y="119.67" font-size="6.62" font-weight="bold" text-anchor="start" fill="#000" >APC-Annexin V</text>
<line x1="401.50" y1="6.70" x2="401.50" y2="102.30" stroke="#8c8c8c" stroke-width="0.8"/>
<line x1="400.00" y1="102.30" x2="516.00" y2="102.30" stroke="#8c8c8c" stroke-width="0.8"/>
<line x1="399.90" y1="102.30" x2="401.50" y2="102.30" stroke="#8c8c8c" stroke-width="0.8"/>
<text x="396.00" y="104.38" font-size="5.8" font-weight="normal" text-anchor="end" fill="#1a1a1a" >0</text>
<line x1="399.90" y1="92.79" x2="401.50" y2="92.79" stroke="#8c8c8c" stroke-width="0.8"/>
<text x="396.00" y="94.87" font-size="5.8" font-weight="normal" text-anchor="end" fill="#1a1a1a" >10</text>
<line x1="399.90" y1="83.28" x2="401.50" y2="83.28" stroke="#8c8c8c" stroke-width="0.8"/>
<text x="396.00" y="85.36" font-size="5.8" font-weight="normal" text-anchor="end" fill="#1a1a1a" >20</text>
<line x1="399.90" y1="73.77" x2="401.50" y2="73.77" stroke="#8c8c8c" stroke-width="0.8"/>
<text x="396.00" y="75.85" font-size="5.8" font-weight="normal" text-anchor="end" fill="#1a1a1a" >30</text>
<line x1="399.90" y1="64.26" x2="401.50" y2="64.26" stroke="#8c8c8c" stroke-width="0.8"/>
<text x="396.00" y="66.34" font-size="5.8" font-weight="normal" text-anchor="end" fill="#1a1a1a" >40</text>
<line x1="399.90" y1="54.75" x2="401.50" y2="54.75" stroke="#8c8c8c" stroke-width="0.8"/>
<text x="396.00" y="56.83" font-size="5.8" font-weight="normal" text-anchor="end" fill="#1a1a1a" >50</text>
<line x1="399.90" y1="45.24" x2="401.50" y2="45.24" stroke="#8c8c8c" stroke-width="0.8"/>
<text x="396.00" y="47.32" font-size="5.8" font-weight="normal" text-anchor="end" fill="#1a1a1a" >60</text>
<line x1="399.90" y1="35.73" x2="401.50" y2="35.73" stroke="#8c8c8c" stroke-width="0.8"/>
<text x="396.00" y="37.81" font-size="5.8" font-weight="normal" text-anchor="end" fill="#1a1a1a" >70</text>
<line x1="399.90" y1="26.22" x2="401.50" y2="26.22" stroke="#8c8c8c" stroke-width="0.8"/>
<text x="396.00" y="28.30" font-size="5.8" font-weight="normal" text-anchor="end" fill="#1a1a1a" >80</text>
<line x1="399.90" y1="16.71" x2="401.50" y2="16.71" stroke="#8c8c8c" stroke-width="0.8"/>
<text x="396.00" y="18.79" font-size="5.8" font-weight="normal" text-anchor="end" fill="#1a1a1a" >90</text>
<line x1="399.90" y1="7.20" x2="401.50" y2="7.20" stroke="#8c8c8c" stroke-width="0.8"/>
<text x="396.00" y="9.28" font-size="5.8" font-weight="normal" text-anchor="end" fill="#1a1a1a" >100</text>
<line x1="401.50" y1="102.30" x2="401.50" y2="104.10" stroke="#8c8c8c" stroke-width="0.8"/>
<line x1="420.52" y1="102.30" x2="420.52" y2="104.10" stroke="#8c8c8c" stroke-width="0.8"/>
<line x1="439.54" y1="102.30" x2="439.54" y2="104.10" stroke="#8c8c8c" stroke-width="0.8"/>
<line x1="458.56" y1="102.30" x2="458.56" y2="104.10" stroke="#8c8c8c" stroke-width="0.8"/>
<line x1="477.58" y1="102.30" x2="477.58" y2="104.10" stroke="#8c8c8c" stroke-width="0.8"/>
<line x1="496.60" y1="102.30" x2="496.60" y2="104.10" stroke="#8c8c8c" stroke-width="0.8"/>
<line x1="515.62" y1="102.30" x2="515.62" y2="104.10" stroke="#8c8c8c" stroke-width="0.8"/>
<rect x="407.05" y="94.60" width="7.90" height="7.70" fill="#a9a9a9" />
<line x1="411.00" y1="94.12" x2="411.00" y2="95.07" stroke="#4a4a4a" stroke-width="1"/>
<line x1="410.20" y1="94.12" x2="411.80" y2="94.12" stroke="#4a4a4a" stroke-width="1"/>
<line x1="410.20" y1="95.07" x2="411.80" y2="95.07" stroke="#4a4a4a" stroke-width="1"/>
<text x="411.00" y="112.78" font-size="6.1" font-weight="normal" text-anchor="middle" fill="#1a1a1a" >0</text>
<rect x="426.07" y="91.74" width="7.90" height="10.56" fill="#a9a9a9" />
<line x1="430.02" y1="88.99" x2="430.02" y2="94.22" stroke="#4a4a4a" stroke-width="1"/>
<line x1="429.22" y1="88.99" x2="430.82" y2="88.99" stroke="#4a4a4a" stroke-width="1"/>
<line x1="429.22" y1="94.22" x2="430.82" y2="94.22" stroke="#4a4a4a" stroke-width="1"/>
<text x="430.02" y="112.78" font-size="6.1" font-weight="normal" text-anchor="middle" fill="#1a1a1a" >0.1</text>
<rect x="445.09" y="89.84" width="7.90" height="12.46" fill="#a9a9a9" />
<line x1="449.04" y1="86.61" x2="449.04" y2="92.79" stroke="#4a4a4a" stroke-width="1"/>
<line x1="448.24" y1="86.61" x2="449.84" y2="86.61" stroke="#4a4a4a" stroke-width="1"/>
<line x1="448.24" y1="92.79" x2="449.84" y2="92.79" stroke="#4a4a4a" stroke-width="1"/>
<text x="449.04" y="112.78" font-size="6.1" font-weight="normal" text-anchor="middle" fill="#1a1a1a" >0.5</text>
<rect x="464.11" y="87.56" width="7.90" height="14.74" fill="#a9a9a9" />
<line x1="468.06" y1="82.80" x2="468.06" y2="91.84" stroke="#4a4a4a" stroke-width="1"/>
<line x1="467.26" y1="82.80" x2="468.86" y2="82.80" stroke="#4a4a4a" stroke-width="1"/>
<line x1="467.26" y1="91.84" x2="468.86" y2="91.84" stroke="#4a4a4a" stroke-width="1"/>
<text x="468.06" y="112.78" font-size="6.1" font-weight="normal" text-anchor="middle" fill="#1a1a1a" >1</text>
<rect x="483.13" y="69.68" width="7.90" height="32.62" fill="#a9a9a9" />
<line x1="487.08" y1="56.94" x2="487.08" y2="82.14" stroke="#4a4a4a" stroke-width="1"/>
<line x1="486.28" y1="56.94" x2="487.88" y2="56.94" stroke="#4a4a4a" stroke-width="1"/>
<line x1="486.28" y1="82.14" x2="487.88" y2="82.14" stroke="#4a4a4a" stroke-width="1"/>
<text x="487.08" y="112.78" font-size="6.1" font-weight="normal" text-anchor="middle" fill="#1a1a1a" >5</text>
<rect x="502.15" y="37.63" width="7.90" height="64.67" fill="#a9a9a9" />
<line x1="506.10" y1="12.43" x2="506.10" y2="61.98" stroke="#4a4a4a" stroke-width="1"/>
<line x1="505.30" y1="12.43" x2="506.90" y2="12.43" stroke="#4a4a4a" stroke-width="1"/>
<line x1="505.30" y1="61.98" x2="506.90" y2="61.98" stroke="#4a4a4a" stroke-width="1"/>
<text x="506.10" y="112.78" font-size="6.1" font-weight="normal" text-anchor="middle" fill="#1a1a1a" >10</text>
<text x="455.50" y="122.32" font-size="7.6" font-weight="bold" text-anchor="middle" fill="#000" >SGI-1776 (µM)</text>
<text transform="translate(382.00,55.00) rotate(-90)" x="0" y="2.65" font-size="7.4" font-weight="bold" text-anchor="middle" fill="#000" >% Apoptosis</text>
<line x1="38.10" y1="141.30" x2="38.10" y2="243.30" stroke="#666" stroke-width="1"/>
<line x1="38.10" y1="243.30" x2="146.00" y2="243.30" stroke="#666" stroke-width="0.9"/>
<line x1="36.50" y1="243.30" x2="38.10" y2="243.30" stroke="#666" stroke-width="0.9"/>
<text x="32.80" y="245.66" font-size="6.6" font-weight="bold" text-anchor="end" fill="#222" >0</text>
<line x1="36.50" y1="226.30" x2="38.10" y2="226.30" stroke="#666" stroke-width="0.9"/>
<text x="32.80" y="228.66" font-size="6.6" font-weight="bold" text-anchor="end" fill="#222" >0.01</text>
<line x1="36.50" y1="209.30" x2="38.10" y2="209.30" stroke="#666" stroke-width="0.9"/>
<text x="32.80" y="211.66" font-size="6.6" font-weight="bold" text-anchor="end" fill="#222" >0.02</text>
<line x1="36.50" y1="192.30" x2="38.10" y2="192.30" stroke="#666" stroke-width="0.9"/>
<text x="32.80" y="194.66" font-size="6.6" font-weight="bold" text-anchor="end" fill="#222" >0.03</text>
<line x1="36.50" y1="175.30" x2="38.10" y2="175.30" stroke="#666" stroke-width="0.9"/>
<text x="32.80" y="177.66" font-size="6.6" font-weight="bold" text-anchor="end" fill="#222" >0.04</text>
<line x1="36.50" y1="158.30" x2="38.10" y2="158.30" stroke="#666" stroke-width="0.9"/>
<text x="32.80" y="160.66" font-size="6.6" font-weight="bold" text-anchor="end" fill="#222" >0.05</text>
<line x1="36.50" y1="141.30" x2="38.10" y2="141.30" stroke="#666" stroke-width="0.9"/>
<text x="32.80" y="143.66" font-size="6.6" font-weight="bold" text-anchor="end" fill="#222" >0.06</text>
<line x1="38.10" y1="243.30" x2="38.10" y2="245.10" stroke="#666" stroke-width="0.9"/>
<line x1="74.30" y1="243.30" x2="74.30" y2="245.10" stroke="#666" stroke-width="0.9"/>
<line x1="110.20" y1="243.30" x2="110.20" y2="245.10" stroke="#666" stroke-width="0.9"/>
<line x1="146.00" y1="243.30" x2="146.00" y2="245.10" stroke="#666" stroke-width="0.9"/>
<rect x="50.00" y="154.90" width="14.00" height="88.40" fill="#a5a5a5" />
<line x1="57.00" y1="152.35" x2="57.00" y2="157.45" stroke="#444" stroke-width="0.9"/>
<line x1="56.10" y1="152.35" x2="57.90" y2="152.35" stroke="#444" stroke-width="0.9"/>
<line x1="56.10" y1="157.45" x2="57.90" y2="157.45" stroke="#444" stroke-width="0.9"/>
<rect x="85.50" y="199.10" width="14.00" height="44.20" fill="#a5a5a5" />
<line x1="92.50" y1="195.53" x2="92.50" y2="202.67" stroke="#444" stroke-width="0.9"/>
<line x1="91.60" y1="195.53" x2="93.40" y2="195.53" stroke="#444" stroke-width="0.9"/>
<line x1="91.60" y1="202.67" x2="93.40" y2="202.67" stroke="#444" stroke-width="0.9"/>
<text x="57.00" y="254.63" font-size="6.8" font-weight="bold" text-anchor="middle" fill="#222" >CMY</text>
<text x="92.50" y="254.63" font-size="6.8" font-weight="bold" text-anchor="middle" fill="#222" >CMK</text>
<text x="128.00" y="254.63" font-size="6.8" font-weight="bold" text-anchor="middle" fill="#222" >Jurkat</text>
<text transform="translate(12.40,192.80) rotate(-90)" x="0" y="2.45" font-size="6.85" font-weight="bold" text-anchor="middle" fill="#222" >hPIM expression</text>
<line x1="185.30" y1="152.10" x2="185.30" y2="243.80" stroke="#111" stroke-width="1"/>
<line x1="184.80" y1="243.30" x2="324.50" y2="243.30" stroke="#111" stroke-width="1.1"/>
<line x1="183.00" y1="243.30" x2="185.30" y2="243.30" stroke="#111" stroke-width="1"/>
<text x="182.50" y="245.63" font-size="6.5" font-weight="bold" text-anchor="end" fill="#000" >0</text>
<line x1="183.00" y1="228.10" x2="185.30" y2="228.10" stroke="#111" stroke-width="1"/>
<text x="182.50" y="230.43" font-size="6.5" font-weight="bold" text-anchor="end" fill="#000" >20</text>
<line x1="183.00" y1="212.90" x2="185.30" y2="212.90" stroke="#111" stroke-width="1"/>
<text x="182.50" y="215.23" font-size="6.5" font-weight="bold" text-anchor="end" fill="#000" >40</text>
<line x1="183.00" y1="197.70" x2="185.30" y2="197.70" stroke="#111" stroke-width="1"/>
<text x="182.50" y="200.03" font-size="6.5" font-weight="bold" text-anchor="end" fill="#000" >60</text>
<line x1="183.00" y1="182.50" x2="185.30" y2="182.50" stroke="#111" stroke-width="1"/>
<text x="182.50" y="184.83" font-size="6.5" font-weight="bold" text-anchor="end" fill="#000" >80</text>
<line x1="183.00" y1="167.30" x2="185.30" y2="167.30" stroke="#111" stroke-width="1"/>
<text x="182.50" y="169.63" font-size="6.5" font-weight="bold" text-anchor="end" fill="#000" >100</text>
<line x1="183.00" y1="152.10" x2="185.30" y2="152.10" stroke="#111" stroke-width="1"/>
<text x="182.50" y="154.43" font-size="6.5" font-weight="bold" text-anchor="end" fill="#000" >120</text>
<line x1="231.75" y1="243.30" x2="231.75" y2="245.70" stroke="#111" stroke-width="1"/>
<text x="231.75" y="253.13" font-size="6.5" font-weight="bold" text-anchor="middle" fill="#000" >0.1</text>
<line x1="263.62" y1="243.30" x2="263.62" y2="245.70" stroke="#111" stroke-width="1"/>
<text x="263.62" y="253.13" font-size="6.5" font-weight="bold" text-anchor="middle" fill="#000" >0.5</text>
<line x1="277.35" y1="243.30" x2="277.35" y2="245.70" stroke="#111" stroke-width="1"/>
<text x="277.35" y="253.13" font-size="6.5" font-weight="bold" text-anchor="middle" fill="#000" >1</text>
<line x1="309.22" y1="243.30" x2="309.22" y2="245.70" stroke="#111" stroke-width="1"/>
<text x="309.22" y="253.13" font-size="6.5" font-weight="bold" text-anchor="middle" fill="#000" >5</text>
<line x1="322.95" y1="243.30" x2="322.95" y2="245.70" stroke="#111" stroke-width="1"/>
<text x="322.95" y="253.13" font-size="6.5" font-weight="bold" text-anchor="middle" fill="#000" >10</text>
<text x="254.50" y="263.69" font-size="7.5" font-weight="bold" text-anchor="middle" fill="#000" >SGI-1776 (µM)</text>
<text transform="translate(164.30,195.60) rotate(-90)" x="0" y="2.74" font-size="7.65" font-weight="bold" text-anchor="middle" fill="#000" >Live cells (% of control)</text>
<polyline points="185.30,167.30 231.75,158.18 263.62,168.82 277.35,168.82 309.22,243.30 322.95,243.30" fill="none" stroke="#111" stroke-width="1.1" />
<polyline points="185.30,167.30 231.75,176.42 263.62,189.34 277.35,208.34 309.22,243.30 322.95,243.30" fill="none" stroke="#111" stroke-width="1.1" />
<polyline points="185.30,167.30 231.75,193.14 263.62,209.86 277.35,228.10 309.22,243.30 322.95,243.30" fill="none" stroke="#111" stroke-width="1.1" />
<line x1="185.30" y1="160.08" x2="185.30" y2="174.52" stroke="#111" stroke-width="1.2"/>
<line x1="183.05" y1="160.08" x2="187.55" y2="160.08" stroke="#111" stroke-width="1.2"/>
<line x1="183.05" y1="174.52" x2="187.55" y2="174.52" stroke="#111" stroke-width="1.2"/>
<line x1="231.75" y1="151.87" x2="231.75" y2="163.50" stroke="#111" stroke-width="1.2"/>
<line x1="229.50" y1="151.87" x2="234.00" y2="151.87" stroke="#111" stroke-width="1.2"/>
<line x1="229.50" y1="163.50" x2="234.00" y2="163.50" stroke="#111" stroke-width="1.2"/>
<line x1="231.75" y1="173.08" x2="231.75" y2="179.46" stroke="#111" stroke-width="1.2"/>
<line x1="229.50" y1="173.08" x2="234.00" y2="173.08" stroke="#111" stroke-width="1.2"/>
<line x1="229.50" y1="179.46" x2="234.00" y2="179.46" stroke="#111" stroke-width="1.2"/>
<line x1="231.75" y1="190.10" x2="231.75" y2="196.18" stroke="#111" stroke-width="1.2"/>
<line x1="229.50" y1="190.10" x2="234.00" y2="190.10" stroke="#111" stroke-width="1.2"/>
<line x1="229.50" y1="196.18" x2="234.00" y2="196.18" stroke="#111" stroke-width="1.2"/>
<line x1="263.62" y1="161.90" x2="263.62" y2="175.66" stroke="#111" stroke-width="1.2"/>
<line x1="261.37" y1="161.90" x2="265.87" y2="161.90" stroke="#111" stroke-width="1.2"/>
<line x1="261.37" y1="175.66" x2="265.87" y2="175.66" stroke="#111" stroke-width="1.2"/>
<line x1="263.62" y1="186.30" x2="263.62" y2="191.24" stroke="#111" stroke-width="1.2"/>
<line x1="261.87" y1="186.30" x2="265.37" y2="186.30" stroke="#111" stroke-width="1.2"/>
<line x1="261.87" y1="191.24" x2="265.37" y2="191.24" stroke="#111" stroke-width="1.2"/>
<line x1="263.62" y1="203.78" x2="263.62" y2="214.57" stroke="#111" stroke-width="1.2"/>
<line x1="261.37" y1="203.78" x2="265.87" y2="203.78" stroke="#111" stroke-width="1.2"/>
<line x1="261.37" y1="214.57" x2="265.87" y2="214.57" stroke="#111" stroke-width="1.2"/>
<line x1="277.35" y1="164.41" x2="277.35" y2="173.08" stroke="#111" stroke-width="1.2"/>
<line x1="275.10" y1="164.41" x2="279.60" y2="164.41" stroke="#111" stroke-width="1.2"/>
<line x1="275.10" y1="173.08" x2="279.60" y2="173.08" stroke="#111" stroke-width="1.2"/>
<circle cx="185.30" cy="167.30" r="2.1" fill="#111"/>
<circle cx="231.75" cy="176.42" r="2.1" fill="#111"/>
<circle cx="263.62" cy="189.34" r="2.1" fill="#111"/>
<circle cx="277.35" cy="208.34" r="2.1" fill="#111"/>
<circle cx="309.22" cy="243.30" r="2.1" fill="#111"/>
<circle cx="322.95" cy="243.30" r="2.1" fill="#111"/>
<rect x="183.30" y="165.30" width="4.00" height="4.00" fill="#111" />
<rect x="229.75" y="191.14" width="4.00" height="4.00" fill="#111" />
<rect x="261.62" y="207.86" width="4.00" height="4.00" fill="#111" />
<rect x="275.35" y="226.10" width="4.00" height="4.00" fill="#111" />
<rect x="307.22" y="241.30" width="4.00" height="4.00" fill="#111" />
<rect x="320.95" y="241.30" width="4.00" height="4.00" fill="#111" />
<polygon points="185.30,164.80 187.50,167.30 185.30,169.80 183.10,167.30" fill="#111"/>
<polygon points="231.75,155.68 233.95,158.18 231.75,160.68 229.55,158.18" fill="#111"/>
<polygon points="263.62,166.32 265.82,168.82 263.62,171.32 261.42,168.82" fill="#111"/>
<polygon points="277.35,166.32 279.55,168.82 277.35,171.32 275.15,168.82" fill="#111"/>
<polygon points="309.22,240.80 311.42,243.30 309.22,245.80 307.02,243.30" fill="#111"/>
<polygon points="322.95,240.80 325.15,243.30 322.95,245.80 320.75,243.30" fill="#111"/>
<line x1="290.00" y1="158.30" x2="299.90" y2="158.30" stroke="#111" stroke-width="1.5"/>
<circle cx="295" cy="158.3" r="2.3" fill="#111"/>
<text x="305.60" y="161.08" font-size="7.2" font-weight="bold" text-anchor="start" fill="#000" >CMK</text>
<line x1="290.00" y1="168.60" x2="299.90" y2="168.60" stroke="#111" stroke-width="1.5"/>
<rect x="292.80" y="166.40" width="4.40" height="4.40" fill="#111" />
<text x="305.60" y="171.38" font-size="7.2" font-weight="bold" text-anchor="start" fill="#000" >CMY</text>
<line x1="290.00" y1="179.20" x2="299.90" y2="179.20" stroke="#111" stroke-width="1.5"/>
<polygon points="295,176.60 297.4,179.20 295,181.80 292.6,179.20" fill="#111"/>
<text x="305.60" y="181.98" font-size="7.2" font-weight="bold" text-anchor="start" fill="#000" >Jurkat</text>
<line x1="377.00" y1="138.00" x2="377.00" y2="243.50" stroke="#8a8a8a" stroke-width="1.3"/>
<line x1="377.00" y1="243.50" x2="520.00" y2="243.50" stroke="#8a8a8a" stroke-width="1.1"/>
<line x1="375.20" y1="243.50" x2="377.00" y2="243.50" stroke="#8a8a8a" stroke-width="1"/>
<text x="371.80" y="245.65" font-size="6.0" font-weight="bold" text-anchor="end" fill="#222" >0</text>
<line x1="375.20" y1="227.25" x2="377.00" y2="227.25" stroke="#8a8a8a" stroke-width="1"/>
<text x="371.80" y="229.40" font-size="6.0" font-weight="bold" text-anchor="end" fill="#222" >10</text>
<line x1="375.20" y1="211.00" x2="377.00" y2="211.00" stroke="#8a8a8a" stroke-width="1"/>
<text x="371.80" y="213.15" font-size="6.0" font-weight="bold" text-anchor="end" fill="#222" >20</text>
<line x1="375.20" y1="194.75" x2="377.00" y2="194.75" stroke="#8a8a8a" stroke-width="1"/>
<text x="371.80" y="196.90" font-size="6.0" font-weight="bold" text-anchor="end" fill="#222" >30</text>
<line x1="375.20" y1="178.50" x2="377.00" y2="178.50" stroke="#8a8a8a" stroke-width="1"/>
<text x="371.80" y="180.65" font-size="6.0" font-weight="bold" text-anchor="end" fill="#222" >40</text>
<line x1="375.20" y1="162.25" x2="377.00" y2="162.25" stroke="#8a8a8a" stroke-width="1"/>
<text x="371.80" y="164.40" font-size="6.0" font-weight="bold" text-anchor="end" fill="#222" >50</text>
<line x1="375.20" y1="146.00" x2="377.00" y2="146.00" stroke="#8a8a8a" stroke-width="1"/>
<text x="371.80" y="148.15" font-size="6.0" font-weight="bold" text-anchor="end" fill="#222" >60</text>
<line x1="400.75" y1="243.50" x2="400.75" y2="245.30" stroke="#8a8a8a" stroke-width="1"/>
<line x1="424.50" y1="243.50" x2="424.50" y2="245.30" stroke="#8a8a8a" stroke-width="1"/>
<line x1="448.25" y1="243.50" x2="448.25" y2="245.30" stroke="#8a8a8a" stroke-width="1"/>
<line x1="472.00" y1="243.50" x2="472.00" y2="245.30" stroke="#8a8a8a" stroke-width="1"/>
<line x1="495.75" y1="243.50" x2="495.75" y2="245.30" stroke="#8a8a8a" stroke-width="1"/>
<line x1="519.50" y1="243.50" x2="519.50" y2="245.30" stroke="#8a8a8a" stroke-width="1"/>
<rect x="381.02" y="233.75" width="5.25" height="9.75" fill="#999999" />
<line x1="383.65" y1="231.64" x2="383.65" y2="235.38" stroke="#3a3a3a" stroke-width="0.9"/>
<line x1="382.85" y1="231.64" x2="384.45" y2="231.64" stroke="#3a3a3a" stroke-width="0.9"/>
<line x1="382.85" y1="235.38" x2="384.45" y2="235.38" stroke="#3a3a3a" stroke-width="0.9"/>
<rect x="386.27" y="233.75" width="5.25" height="9.75" fill="#6a6a6a" />
<line x1="388.90" y1="232.45" x2="388.90" y2="235.70" stroke="#3a3a3a" stroke-width="0.9"/>
<line x1="388.10" y1="232.45" x2="389.70" y2="232.45" stroke="#3a3a3a" stroke-width="0.9"/>
<line x1="388.10" y1="235.70" x2="389.70" y2="235.70" stroke="#3a3a3a" stroke-width="0.9"/>
<rect x="391.52" y="236.03" width="5.25" height="7.47" fill="#d2d2d2" />
<line x1="394.15" y1="235.05" x2="394.15" y2="236.51" stroke="#3a3a3a" stroke-width="0.9"/>
<line x1="393.35" y1="235.05" x2="394.95" y2="235.05" stroke="#3a3a3a" stroke-width="0.9"/>
<line x1="393.35" y1="236.51" x2="394.95" y2="236.51" stroke="#3a3a3a" stroke-width="0.9"/>
<text x="388.90" y="253.69" font-size="6.4" font-weight="bold" text-anchor="middle" fill="#222" >0</text>
<rect x="404.77" y="223.84" width="5.25" height="19.66" fill="#999999" />
<line x1="407.40" y1="219.12" x2="407.40" y2="228.22" stroke="#3a3a3a" stroke-width="0.9"/>
<line x1="406.60" y1="219.12" x2="408.20" y2="219.12" stroke="#3a3a3a" stroke-width="0.9"/>
<line x1="406.60" y1="228.22" x2="408.20" y2="228.22" stroke="#3a3a3a" stroke-width="0.9"/>
<rect x="410.02" y="233.26" width="5.25" height="10.24" fill="#6a6a6a" />
<line x1="412.65" y1="232.78" x2="412.65" y2="233.75" stroke="#3a3a3a" stroke-width="0.9"/>
<line x1="411.85" y1="232.78" x2="413.45" y2="232.78" stroke="#3a3a3a" stroke-width="0.9"/>
<line x1="411.85" y1="233.75" x2="413.45" y2="233.75" stroke="#3a3a3a" stroke-width="0.9"/>
<rect x="415.27" y="235.38" width="5.25" height="8.12" fill="#d2d2d2" />
<line x1="417.90" y1="232.94" x2="417.90" y2="237.81" stroke="#3a3a3a" stroke-width="0.9"/>
<line x1="417.10" y1="232.94" x2="418.70" y2="232.94" stroke="#3a3a3a" stroke-width="0.9"/>
<line x1="417.10" y1="237.81" x2="418.70" y2="237.81" stroke="#3a3a3a" stroke-width="0.9"/>
<text x="412.65" y="253.69" font-size="6.4" font-weight="bold" text-anchor="middle" fill="#222" >0.1</text>
<rect x="428.52" y="204.50" width="5.25" height="39.00" fill="#999999" />
<line x1="431.15" y1="204.01" x2="431.15" y2="204.82" stroke="#3a3a3a" stroke-width="0.9"/>
<line x1="430.35" y1="204.01" x2="431.95" y2="204.01" stroke="#3a3a3a" stroke-width="0.9"/>
<line x1="430.35" y1="204.82" x2="431.95" y2="204.82" stroke="#3a3a3a" stroke-width="0.9"/>
<rect x="433.77" y="233.43" width="5.25" height="10.08" fill="#6a6a6a" />
<line x1="436.40" y1="232.45" x2="436.40" y2="234.40" stroke="#3a3a3a" stroke-width="0.9"/>
<line x1="435.60" y1="232.45" x2="437.20" y2="232.45" stroke="#3a3a3a" stroke-width="0.9"/>
<line x1="435.60" y1="234.40" x2="437.20" y2="234.40" stroke="#3a3a3a" stroke-width="0.9"/>
<rect x="439.02" y="236.03" width="5.25" height="7.47" fill="#d2d2d2" />
<line x1="441.65" y1="233.75" x2="441.65" y2="238.30" stroke="#3a3a3a" stroke-width="0.9"/>
<line x1="440.85" y1="233.75" x2="442.45" y2="233.75" stroke="#3a3a3a" stroke-width="0.9"/>
<line x1="440.85" y1="238.30" x2="442.45" y2="238.30" stroke="#3a3a3a" stroke-width="0.9"/>
<text x="436.40" y="253.69" font-size="6.4" font-weight="bold" text-anchor="middle" fill="#222" >0.5</text>
<rect x="452.27" y="184.51" width="5.25" height="58.99" fill="#999999" />
<line x1="454.90" y1="174.93" x2="454.90" y2="194.10" stroke="#3a3a3a" stroke-width="0.9"/>
<line x1="454.10" y1="174.93" x2="455.70" y2="174.93" stroke="#3a3a3a" stroke-width="0.9"/>
<line x1="454.10" y1="194.10" x2="455.70" y2="194.10" stroke="#3a3a3a" stroke-width="0.9"/>
<rect x="457.52" y="233.75" width="5.25" height="9.75" fill="#6a6a6a" />
<line x1="460.15" y1="232.78" x2="460.15" y2="235.38" stroke="#3a3a3a" stroke-width="0.9"/>
<line x1="459.35" y1="232.78" x2="460.95" y2="232.78" stroke="#3a3a3a" stroke-width="0.9"/>
<line x1="459.35" y1="235.38" x2="460.95" y2="235.38" stroke="#3a3a3a" stroke-width="0.9"/>
<rect x="462.77" y="235.05" width="5.25" height="8.45" fill="#d2d2d2" />
<line x1="465.40" y1="234.40" x2="465.40" y2="235.86" stroke="#3a3a3a" stroke-width="0.9"/>
<line x1="464.60" y1="234.40" x2="466.20" y2="234.40" stroke="#3a3a3a" stroke-width="0.9"/>
<line x1="464.60" y1="235.86" x2="466.20" y2="235.86" stroke="#3a3a3a" stroke-width="0.9"/>
<text x="460.15" y="253.69" font-size="6.4" font-weight="bold" text-anchor="middle" fill="#222" >1</text>
<rect x="476.02" y="174.27" width="5.25" height="69.23" fill="#999999" />
<line x1="478.65" y1="165.82" x2="478.65" y2="183.38" stroke="#3a3a3a" stroke-width="0.9"/>
<line x1="477.85" y1="165.82" x2="479.45" y2="165.82" stroke="#3a3a3a" stroke-width="0.9"/>
<line x1="477.85" y1="183.38" x2="479.45" y2="183.38" stroke="#3a3a3a" stroke-width="0.9"/>
<rect x="481.27" y="228.71" width="5.25" height="14.79" fill="#6a6a6a" />
<line x1="483.90" y1="226.28" x2="483.90" y2="230.82" stroke="#3a3a3a" stroke-width="0.9"/>
<line x1="483.10" y1="226.28" x2="484.70" y2="226.28" stroke="#3a3a3a" stroke-width="0.9"/>
<line x1="483.10" y1="230.82" x2="484.70" y2="230.82" stroke="#3a3a3a" stroke-width="0.9"/>
<rect x="486.52" y="222.54" width="5.25" height="20.96" fill="#d2d2d2" />
<line x1="489.15" y1="219.45" x2="489.15" y2="224.00" stroke="#3a3a3a" stroke-width="0.9"/>
<line x1="488.35" y1="219.45" x2="489.95" y2="219.45" stroke="#3a3a3a" stroke-width="0.9"/>
<line x1="488.35" y1="224.00" x2="489.95" y2="224.00" stroke="#3a3a3a" stroke-width="0.9"/>
<text x="483.90" y="253.69" font-size="6.4" font-weight="bold" text-anchor="middle" fill="#222" >5</text>
<rect x="499.77" y="165.50" width="5.25" height="78.00" fill="#999999" />
<line x1="502.40" y1="161.93" x2="502.40" y2="168.75" stroke="#3a3a3a" stroke-width="0.9"/>
<line x1="501.60" y1="161.93" x2="503.20" y2="161.93" stroke="#3a3a3a" stroke-width="0.9"/>
<line x1="501.60" y1="168.75" x2="503.20" y2="168.75" stroke="#3a3a3a" stroke-width="0.9"/>
<rect x="505.02" y="157.38" width="5.25" height="86.12" fill="#6a6a6a" />
<line x1="507.65" y1="150.06" x2="507.65" y2="163.88" stroke="#3a3a3a" stroke-width="0.9"/>
<line x1="506.85" y1="150.06" x2="508.45" y2="150.06" stroke="#3a3a3a" stroke-width="0.9"/>
<line x1="506.85" y1="163.88" x2="508.45" y2="163.88" stroke="#3a3a3a" stroke-width="0.9"/>
<rect x="510.27" y="144.86" width="5.25" height="98.64" fill="#d2d2d2" />
<line x1="512.90" y1="140.31" x2="512.90" y2="149.25" stroke="#3a3a3a" stroke-width="0.9"/>
<line x1="512.10" y1="140.31" x2="513.70" y2="140.31" stroke="#3a3a3a" stroke-width="0.9"/>
<line x1="512.10" y1="149.25" x2="513.70" y2="149.25" stroke="#3a3a3a" stroke-width="0.9"/>
<text x="507.65" y="253.69" font-size="6.4" font-weight="bold" text-anchor="middle" fill="#222" >10</text>
<text x="443.20" y="265.52" font-size="7.05" font-weight="bold" text-anchor="middle" fill="#000" >SGI-1776 (µM)</text>
<text transform="translate(358.50,197.50) rotate(-90)" x="0" y="2.58" font-size="7.2" font-weight="bold" text-anchor="middle" fill="#000" >% Apoptosis</text>
<rect x="387.50" y="137.40" width="3.10" height="3.20" fill="#999999" />
<text x="391.90" y="141.22" font-size="6.2" font-weight="bold" text-anchor="start" fill="#333" >CMY</text>
<rect x="387.50" y="146.50" width="3.10" height="3.20" fill="#6a6a6a" />
<text x="391.90" y="150.32" font-size="6.2" font-weight="bold" text-anchor="start" fill="#333" >CMK</text>
<rect x="387.50" y="155.30" width="3.10" height="3.20" fill="#d2d2d2" />
<text x="391.90" y="159.12" font-size="6.2" font-weight="bold" text-anchor="start" fill="#333" >Jurkat</text>
<defs><filter id="bl" x="-20%" y="-50%" width="140%" height="200%"><feGaussianBlur stdDeviation="0.75"/></filter><filter id="bl2" x="-20%" y="-50%" width="140%" height="200%"><feGaussianBlur stdDeviation="0.9"/></filter></defs>
<rect x="39.00" y="341.00" width="66.50" height="33.50" fill="#cfcfcf" />
<rect x="39.00" y="341.00" width="23.00" height="33.50" fill="#d6d6d6" />
<rect x="85.00" y="341.00" width="20.50" height="33.50" fill="#d3d3d3" />
<line x1="62.50" y1="341.00" x2="62.50" y2="374.50" stroke="#a0a0a0" stroke-width="0.6"/>
<line x1="84.60" y1="341.00" x2="84.60" y2="374.50" stroke="#a0a0a0" stroke-width="0.6"/>
<rect x="43" y="346.4" width="15.5" height="3.0" rx="1.2" fill="#5a5a5a" filter="url(#bl)"/>
<rect x="64.5" y="346.2" width="16.5" height="3.6" rx="1.2" fill="#484848" filter="url(#bl)"/>
<rect x="88" y="346.6" width="16.5" height="1.6" rx="0.8" fill="#666" filter="url(#bl)"/>
<rect x="41.5" y="366.7" width="17.5" height="2.8" rx="1.2" fill="#454545" filter="url(#bl)"/>
<rect x="64.5" y="366.5" width="18" height="3.2" rx="1.2" fill="#333" filter="url(#bl)"/>
<rect x="88" y="367.6" width="16.5" height="1.7" rx="0.8" fill="#5a5a5a" filter="url(#bl)"/>
<circle cx="48.2" cy="362" r="1.2" fill="#444" filter="url(#bl)"/>
<rect x="39.00" y="377.00" width="66.50" height="26.00" fill="#d2d2d2" />
<line x1="62.50" y1="377.00" x2="62.50" y2="403.00" stroke="#9a9a9a" stroke-width="0.6"/>
<line x1="84.60" y1="377.00" x2="84.60" y2="403.00" stroke="#9a9a9a" stroke-width="0.6"/>
<rect x="39.6" y="386.9" width="22.6" height="6.6" rx="3" fill="#0a0a0a" filter="url(#bl2)"/>
<rect x="63.2" y="387.6" width="20.8" height="6.4" rx="3" fill="#0a0a0a" filter="url(#bl2)"/>
<rect x="85.4" y="387.4" width="20.2" height="6.0" rx="3" fill="#111" filter="url(#bl2)"/>
<line x1="108.30" y1="347.30" x2="112.70" y2="347.30" stroke="#000" stroke-width="1.1"/>
<text x="116.30" y="350.65" font-size="8.8" font-weight="bold" text-anchor="start" fill="#000" >44 kDa</text>
<line x1="107.00" y1="368.50" x2="111.70" y2="368.50" stroke="#000" stroke-width="1.1"/>
<text x="115.20" y="371.63" font-size="8.75" font-weight="bold" text-anchor="start" fill="#000" >33 kDa</text>
<text x="21.40" y="359.51" font-size="8.4" font-weight="bold" text-anchor="middle" fill="#000" >mPim1</text>
<text x="0.6" y="391.8" font-size="8.4"><tspan font-family="Liberation Serif">β</tspan><tspan font-weight="bold">Tubulin</tspan></text>
<text transform="translate(48.30,337.70) rotate(-45) scale(0.96,1)" font-size="7.7" font-weight="bold">NTC</text>
<text transform="translate(67.60,332.20) rotate(-45) scale(0.96,1)" font-size="7.7" font-weight="bold">Non targeting</text>
<text transform="translate(72.90,337.50) rotate(-45) scale(0.96,1)" font-size="7.7" font-weight="bold">siRNA</text>
<text transform="translate(89.80,332.00) rotate(-45) scale(0.96,1)" font-size="7.7" font-weight="bold">mPim1</text>
<text transform="translate(95.10,337.30) rotate(-45) scale(0.96,1)" font-size="7.7" font-weight="bold">siRNA</text>
<line x1="188.10" y1="302.50" x2="188.10" y2="403.75" stroke="#9a9a9a" stroke-width="0.8"/>
<line x1="188.10" y1="403.75" x2="276.50" y2="403.75" stroke="#9a9a9a" stroke-width="0.8"/>
<line x1="186.50" y1="403.75" x2="188.10" y2="403.75" stroke="#9a9a9a" stroke-width="0.8"/>
<text x="182.60" y="405.83" font-size="5.8" font-weight="bold" text-anchor="end" fill="#222" >0</text>
<line x1="186.50" y1="387.08" x2="188.10" y2="387.08" stroke="#9a9a9a" stroke-width="0.8"/>
<text x="182.60" y="389.16" font-size="5.8" font-weight="bold" text-anchor="end" fill="#222" >20</text>
<line x1="186.50" y1="370.42" x2="188.10" y2="370.42" stroke="#9a9a9a" stroke-width="0.8"/>
<text x="182.60" y="372.49" font-size="5.8" font-weight="bold" text-anchor="end" fill="#222" >40</text>
<line x1="186.50" y1="353.75" x2="188.10" y2="353.75" stroke="#9a9a9a" stroke-width="0.8"/>
<text x="182.60" y="355.83" font-size="5.8" font-weight="bold" text-anchor="end" fill="#222" >60</text>
<line x1="186.50" y1="337.09" x2="188.10" y2="337.09" stroke="#9a9a9a" stroke-width="0.8"/>
<text x="182.60" y="339.16" font-size="5.8" font-weight="bold" text-anchor="end" fill="#222" >80</text>
<line x1="186.50" y1="320.42" x2="188.10" y2="320.42" stroke="#9a9a9a" stroke-width="0.8"/>
<text x="182.60" y="322.50" font-size="5.8" font-weight="bold" text-anchor="end" fill="#222" >100</text>
<line x1="186.50" y1="303.75" x2="188.10" y2="303.75" stroke="#9a9a9a" stroke-width="0.8"/>
<text x="182.60" y="305.83" font-size="5.8" font-weight="bold" text-anchor="end" fill="#222" >120</text>
<line x1="188.10" y1="403.75" x2="188.10" y2="405.55" stroke="#9a9a9a" stroke-width="0.8"/>
<line x1="217.80" y1="403.75" x2="217.80" y2="405.55" stroke="#9a9a9a" stroke-width="0.8"/>
<line x1="247.20" y1="403.75" x2="247.20" y2="405.55" stroke="#9a9a9a" stroke-width="0.8"/>
<line x1="276.50" y1="403.75" x2="276.50" y2="405.55" stroke="#9a9a9a" stroke-width="0.8"/>
<rect x="197.25" y="320.42" width="11.50" height="83.33" fill="#999" />
<line x1="203.00" y1="307.25" x2="203.00" y2="333.75" stroke="#333" stroke-width="0.9"/>
<line x1="202.20" y1="307.25" x2="203.80" y2="307.25" stroke="#333" stroke-width="0.9"/>
<line x1="202.20" y1="333.75" x2="203.80" y2="333.75" stroke="#333" stroke-width="0.9"/>
<rect x="226.55" y="333.09" width="11.50" height="70.66" fill="#999" />
<line x1="232.30" y1="319.00" x2="232.30" y2="345.59" stroke="#333" stroke-width="0.9"/>
<line x1="231.50" y1="319.00" x2="233.10" y2="319.00" stroke="#333" stroke-width="0.9"/>
<line x1="231.50" y1="345.59" x2="233.10" y2="345.59" stroke="#333" stroke-width="0.9"/>
<rect x="255.75" y="357.25" width="11.50" height="46.50" fill="#999" />
<line x1="261.50" y1="353.09" x2="261.50" y2="361.92" stroke="#333" stroke-width="0.9"/>
<line x1="260.70" y1="353.09" x2="262.30" y2="353.09" stroke="#333" stroke-width="0.9"/>
<line x1="260.70" y1="361.92" x2="262.30" y2="361.92" stroke="#333" stroke-width="0.9"/>
<text x="203.00" y="414.67" font-size="6.9" font-weight="bold" text-anchor="middle" fill="#222" >NTC</text>
<text x="232.30" y="414.67" font-size="6.9" font-weight="bold" text-anchor="middle" fill="#222" >Control</text>
<text x="232.30" y="422.17" font-size="6.9" font-weight="bold" text-anchor="middle" fill="#222" >siRNA</text>
<text x="261.50" y="414.67" font-size="6.9" font-weight="bold" text-anchor="middle" fill="#222" >mPim1</text>
<text x="261.50" y="422.17" font-size="6.9" font-weight="bold" text-anchor="middle" fill="#222" >siRNA</text>
<text transform="translate(164.60,353.20) rotate(-90)" x="0" y="2.51" font-size="7.0" font-weight="bold" text-anchor="middle" fill="#000" >Live cells (% of control)</text>
<polyline points="206.30,306.00 206.30,300.60 265.60,300.60 265.60,305.00" fill="none" stroke="#555" stroke-width="0.9" />
<polyline points="235.00,315.80 235.00,314.00 265.60,314.00 265.60,315.80" fill="none" stroke="#555" stroke-width="0.9" />
<text x="250.60" y="298.73" font-size="6.5" font-weight="normal" text-anchor="middle" fill="#222" >p=0.006</text>
<text x="250.60" y="311.23" font-size="6.5" font-weight="normal" text-anchor="middle" fill="#222" >p=0.016</text>
<line x1="337.80" y1="286.50" x2="337.80" y2="381.00" stroke="#111" stroke-width="1.3"/>
<line x1="335.30" y1="381.00" x2="340.50" y2="381.00" stroke="#111" stroke-width="1.2"/>
<line x1="335.50" y1="388.80" x2="340.30" y2="388.80" stroke="#111" stroke-width="1.2"/>
<line x1="337.80" y1="388.80" x2="337.80" y2="398.00" stroke="#111" stroke-width="1.3"/>
<line x1="337.20" y1="395.50" x2="501.90" y2="395.50" stroke="#111" stroke-width="1.3"/>
<line x1="335.30" y1="380.00" x2="337.80" y2="380.00" stroke="#111" stroke-width="1.2"/>
<text x="333.60" y="383.08" font-size="8.6" font-weight="normal" text-anchor="end" fill="#000" >20</text>
<line x1="335.30" y1="356.75" x2="337.80" y2="356.75" stroke="#111" stroke-width="1.2"/>
<text x="333.60" y="359.83" font-size="8.6" font-weight="normal" text-anchor="end" fill="#000" >40</text>
<line x1="335.30" y1="333.50" x2="337.80" y2="333.50" stroke="#111" stroke-width="1.2"/>
<text x="333.60" y="336.58" font-size="8.6" font-weight="normal" text-anchor="end" fill="#000" >60</text>
<line x1="335.30" y1="310.25" x2="337.80" y2="310.25" stroke="#111" stroke-width="1.2"/>
<text x="333.60" y="313.33" font-size="8.6" font-weight="normal" text-anchor="end" fill="#000" >80</text>
<line x1="335.30" y1="287.00" x2="337.80" y2="287.00" stroke="#111" stroke-width="1.2"/>
<text x="333.60" y="290.08" font-size="8.6" font-weight="normal" text-anchor="end" fill="#000" >100</text>
<line x1="388.06" y1="395.50" x2="388.06" y2="398.10" stroke="#111" stroke-width="1.2"/>
<line x1="438.32" y1="395.50" x2="438.32" y2="398.10" stroke="#111" stroke-width="1.2"/>
<line x1="488.58" y1="395.50" x2="488.58" y2="398.10" stroke="#111" stroke-width="1.2"/>
<text x="337.80" y="407.71" font-size="8.7" font-weight="normal" text-anchor="middle" fill="#000" >0</text>
<text x="388.06" y="407.71" font-size="8.7" font-weight="normal" text-anchor="middle" fill="#000" >2000</text>
<text x="438.32" y="407.71" font-size="8.7" font-weight="normal" text-anchor="middle" fill="#000" >4000</text>
<text x="488.58" y="407.71" font-size="8.7" font-weight="normal" text-anchor="middle" fill="#000" >6000</text>
<text x="419.30" y="421.19" font-size="10.3" font-weight="bold" text-anchor="middle" fill="#000" >Days</text>
<text transform="translate(312.30,340.60) rotate(-90)" x="0" y="3.76" font-size="10.5" font-weight="bold" text-anchor="middle" fill="#000" >Percent survival</text>
<polyline points="338.30,287.00 341.60,302.80 345.40,310.30 348.50,321.60 350.50,330.00 352.30,337.00 355.00,342.30 362.30,347.30 371.90,351.30 379.60,353.20 386.00,354.00 400.00,356.80 440.00,357.00 448.70,357.20 449.00,362.20 498.10,362.20" fill="none" stroke="#cf8e4e" stroke-width="1.3" stroke-linejoin="round"/>
<polyline points="338.30,287.00 338.80,303.00 342.90,315.30 346.40,325.00 347.90,334.60 350.00,338.50 354.60,342.30 362.30,347.10 371.90,351.00 379.60,352.90 386.00,353.80 400.00,355.60 430.00,356.00 500.00,356.50" fill="none" stroke="#4f8a2a" stroke-width="1.3" stroke-linejoin="round"/>
<polyline points="338.30,287.00 344.20,304.70 346.70,317.90 348.80,325.00 350.30,334.60 352.00,338.50 355.50,342.30 362.30,347.10 371.90,351.00 379.60,353.00 386.00,355.50 391.00,356.70 400.00,358.60 440.00,358.70 455.00,359.00 466.90,359.40" fill="none" stroke="#2424c0" stroke-width="1.3" stroke-linejoin="round"/>
<polyline points="338.30,287.00 340.00,302.00 341.60,312.80 344.20,324.10 345.20,331.00 345.60,338.00 347.90,347.00 350.30,357.70 353.00,360.00 356.50,363.50 358.50,368.50 383.50,368.50 383.80,369.20 402.50,369.20 402.80,371.00 436.90,371.00 437.20,376.30 496.90,376.30" fill="none" stroke="#d41e2a" stroke-width="1.3" stroke-linejoin="round"/>
<path d="M374.0 350.2v2.6 M377.0 351.0v2.6 M379.0 351.5v2.6 M381.0 351.8v2.6 M383.0 352.1v2.6 M385.0 352.4v2.6 M387.0 352.6v2.6 M389.0 352.9v2.6 M391.0 353.1v2.6 M393.0 353.4v2.6 M395.0 353.7v2.6 M397.0 353.9v2.6 M399.0 354.2v2.6 M402.0 354.3v2.6 M405.0 354.4v2.6 M408.0 354.4v2.6 M411.0 354.4v2.6 M414.0 354.5v2.6 M417.0 354.5v2.6 M420.0 354.6v2.6 M423.0 354.6v2.6 M426.0 354.6v2.6 M429.0 354.7v2.6 M432.0 354.7v2.6 M435.0 354.7v2.6 M438.0 354.8v2.6 M441.0 354.8v2.6 M444.0 354.8v2.6 M447.0 354.8v2.6 M460.0 354.9v2.6 M466.0 355.0v2.6 M481.0 355.1v2.6 M484.0 355.1v2.6 M487.0 355.1v2.6 M499.5 355.2v2.6 M378.0 351.3v2.6 M382.0 352.6v2.6 M386.0 354.2v2.6 M390.0 355.2v2.6 M394.0 356.0v2.6 M398.0 356.9v2.6 M401.0 357.3v2.6 M404.0 357.3v2.6 M408.0 357.3v2.6 M413.0 357.3v2.6 M418.0 357.3v2.6 M424.0 357.4v2.6 M428.0 357.4v2.6 M432.0 357.4v2.6 M436.0 357.4v2.6 M440.0 357.4v2.6 M445.0 357.5v2.6 M450.0 357.6v2.6 M453.0 357.7v2.6 M456.0 357.7v2.6 M462.0 357.9v2.6 M466.0 358.1v2.6 M380.0 351.9v2.6 M388.0 353.1v2.6 M396.0 354.7v2.6 M404.0 355.5v2.6 M412.0 355.6v2.6 M422.0 355.6v2.6 M430.0 355.6v2.6 M438.0 355.7v2.6 M446.0 355.8v2.6 M449.5 360.9v2.6 M455.0 360.9v2.6 M461.0 360.9v2.6 M466.0 360.9v2.6 M482.0 360.9v2.6 M497.5 360.9v2.6 M361.0 367.2v2.6 M374.0 367.2v2.6 M383.0 367.2v2.6 M392.0 367.9v2.6 M396.0 367.9v2.6 M399.5 367.9v2.6 M404.0 369.7v2.6 M436.0 369.7v2.6 M443.0 375.0v2.6 M449.0 375.0v2.6 M455.0 375.0v2.6 M461.0 375.0v2.6 M469.0 375.0v2.6 M496.5 375.0v2.6" stroke="#111" stroke-width="1.2" fill="none"/>
<line x1="390.20" y1="289.80" x2="401.90" y2="289.80" stroke="#4f8a2a" stroke-width="1.1"/>
<line x1="396.00" y1="288.60" x2="396.00" y2="291.00" stroke="#111" stroke-width="1.1"/>
<text x="408.40" y="292.38" font-size="7.2" font-weight="bold" text-anchor="start" fill="#000" >PIM1 low, ERG low N=106</text>
<line x1="390.20" y1="303.00" x2="401.90" y2="303.00" stroke="#2424c0" stroke-width="1.1"/>
<line x1="396.00" y1="301.80" x2="396.00" y2="304.20" stroke="#111" stroke-width="1.1"/>
<text x="408.40" y="305.58" font-size="7.2" font-weight="bold" text-anchor="start" fill="#000" >PIM1 high, ERG low N=116</text>
<line x1="390.20" y1="316.60" x2="401.90" y2="316.60" stroke="#cf8e4e" stroke-width="1.1"/>
<line x1="396.00" y1="315.40" x2="396.00" y2="317.80" stroke="#111" stroke-width="1.1"/>
<text x="408.40" y="319.18" font-size="7.2" font-weight="bold" text-anchor="start" fill="#000" >PIM1 low, ERG high N=121</text>
<line x1="390.20" y1="330.30" x2="401.90" y2="330.30" stroke="#d41e2a" stroke-width="1.1"/>
<line x1="396.00" y1="329.10" x2="396.00" y2="331.50" stroke="#111" stroke-width="1.1"/>
<text x="408.40" y="332.88" font-size="7.2" font-weight="bold" text-anchor="start" fill="#000" >PIM1 high, ERG high N=110</text>
<text x="334" y="430.55" font-size="6.5" fill="#111"><tspan fill="#c0302c">PIM1 high, ERG high</tspan> <tspan font-weight="bold">vs.</tspan> <tspan fill="#5c9a3a">PIM1 low, ERG low</tspan> p=0.0235</text>
<text x="334" y="436.65" font-size="6.5" fill="#111"><tspan fill="#c0302c">PIM1 high, ERG high</tspan> <tspan font-weight="bold">vs.</tspan> <tspan fill="#2a36c8">PIM1 high, ERG low</tspan> p=0.0039</text>
<text x="334" y="442.85" font-size="6.5" fill="#111"><tspan fill="#c0302c">PIM1 high, ERG high</tspan> <tspan font-weight="bold">vs.</tspan> <tspan fill="#d8783a">PIM1 low, ERG high</tspan> p=0.0098</text>
</svg></body></html>
